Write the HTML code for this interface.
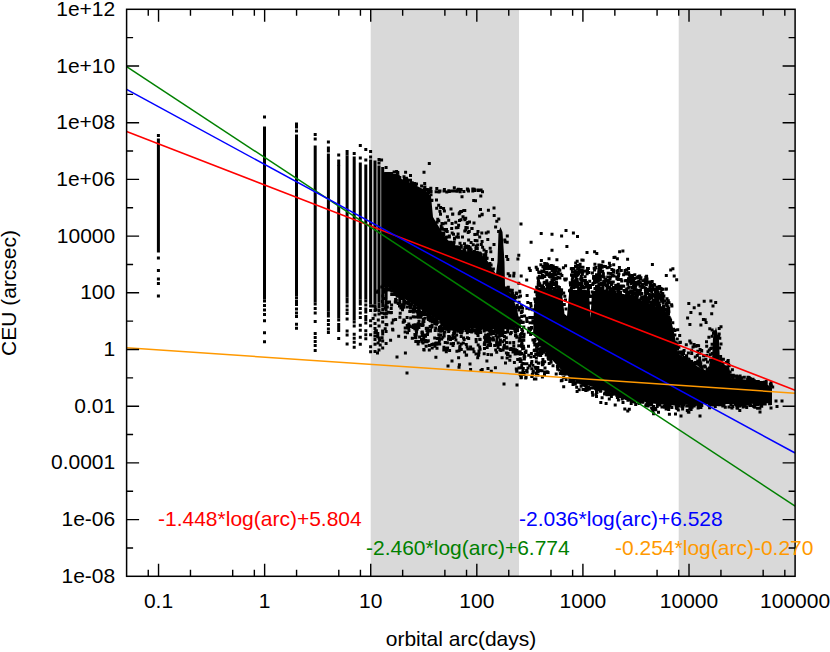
<!DOCTYPE html><html><head><meta charset="utf-8"><style>html,body{margin:0;padding:0;background:#fff}svg{display:block}</style></head><body><svg width="830" height="652" viewBox="0 0 830 652">
<rect width="830" height="652" fill="#fff"/>
<rect x="370.72" y="9.3" width="148.31" height="567.0" fill="#d9d9d9"/>
<rect x="678.72" y="9.3" width="116.38" height="567.0" fill="#d9d9d9"/>
<g fill="#000">
<rect x="156.9" y="138.5" width="3" height="114.0"/>
<rect x="263.0" y="126.5" width="3" height="173.0"/>
<rect x="295.0" y="134.5" width="3" height="162.0"/>
<rect x="313.7" y="145.5" width="3" height="157.0"/>
<rect x="326.9" y="153.5" width="3" height="158.0"/>
<rect x="337.2" y="165.0" width="3" height="153.5"/>
<rect x="345.6" y="155.5" width="3" height="142.0"/>
<rect x="352.7" y="156.5" width="3" height="164.0"/>
<rect x="358.8" y="162.5" width="3" height="137.0"/>
<rect x="364.3" y="164.5" width="3" height="135.0"/>
<rect x="369.1" y="159.5" width="3" height="145.0"/>
<rect x="373.5" y="160.5" width="3" height="144.0"/>
<rect x="377.5" y="165.5" width="3" height="137.0"/>
<rect x="381.2" y="167.0" width="3" height="134.5"/>
<rect x="384.6" y="172.5" width="3" height="127.0"/>
<polygon points="384.0,174.0 405.0,180.0 425.0,190.0 431.0,196.0 433.0,217.0 445.0,237.0 455.0,247.0 465.0,251.0 475.0,253.0 485.0,257.0 496.0,274.0 497.5,262.0 498.5,232.0 500.5,227.0 502.5,232.0 504.5,262.0 505.0,286.0 512.0,296.0 517.0,309.0 519.5,322.0 514.0,330.0 504.0,329.0 483.0,329.0 461.0,328.0 440.0,321.0 433.0,317.0 409.0,302.0 386.0,286.0 384.0,284.0"/>
<polygon points="533.0,335.0 534.0,305.0 537.0,292.0 545.0,289.0 558.0,290.0 562.0,293.0 564.5,314.0 567.0,316.0 569.0,294.0 572.0,290.0 586.0,290.0 589.0,292.0 590.5,318.0 592.0,292.0 596.0,290.0 605.0,290.0 628.0,295.0 651.0,304.0 667.0,312.0 671.0,320.0 674.0,332.0 678.0,353.0 683.0,357.0 700.0,368.0 710.0,372.0 712.0,360.0 713.0,338.0 716.0,327.0 719.0,340.0 720.0,364.0 729.0,366.0 731.0,378.0 750.0,380.0 768.0,385.0 772.0,388.0 772.0,403.0 750.0,404.0 700.0,404.0 673.0,405.5 652.0,403.5 630.0,398.5 608.0,392.0 587.0,385.0 576.0,381.0 565.0,374.0 554.0,362.0 543.0,350.0 536.0,338.0"/>
<path d="M156.9 134.0h3v3h-3zM156.9 256.5h3v3h-3zM156.9 269.0h3v3h-3zM156.9 277.5h3v3h-3zM156.9 282.0h3v3h-3zM156.9 294.5h3v3h-3zM263.0 115.5h3v3h-3zM263.0 299.5h3v3h-3zM263.0 304.0h3v3h-3zM263.0 308.5h3v3h-3zM263.0 313.0h3v3h-3zM263.0 319.2h3v3h-3zM263.0 331.2h3v3h-3zM263.0 340.2h3v3h-3zM295.0 122.5h3v3h-3zM295.0 125.5h3v3h-3zM295.0 129.5h3v3h-3zM295.0 296.5h3v3h-3zM295.0 300.0h3v3h-3zM295.0 303.0h3v3h-3zM295.0 307.5h3v3h-3zM295.0 311.5h3v3h-3zM295.0 315.0h3v3h-3zM295.0 322.7h3v3h-3zM295.0 326.7h3v3h-3zM313.7 133.0h3v3h-3zM313.7 137.5h3v3h-3zM313.7 302.5h3v3h-3zM313.7 307.0h3v3h-3zM313.7 311.5h3v3h-3zM313.7 320.0h3v3h-3zM313.7 332.0h3v3h-3zM313.7 336.0h3v3h-3zM313.7 340.0h3v3h-3zM313.7 344.0h3v3h-3zM313.7 349.0h3v3h-3zM326.9 140.5h3v3h-3zM326.9 146.5h3v3h-3zM326.9 149.5h3v3h-3zM326.9 311.5h3v3h-3zM326.9 314.5h3v3h-3zM326.9 319.0h3v3h-3zM326.9 323.0h3v3h-3zM326.9 327.5h3v3h-3zM326.9 331.0h3v3h-3zM337.2 153.5h3v3h-3zM337.2 159.5h3v3h-3zM337.2 162.5h3v3h-3zM337.2 318.5h3v3h-3zM337.2 323.0h3v3h-3zM337.2 326.0h3v3h-3zM337.2 329.0h3v3h-3zM337.2 337.1h3v3h-3zM345.6 150.0h3v3h-3zM345.6 152.5h3v3h-3zM345.6 297.5h3v3h-3zM345.6 300.5h3v3h-3zM345.6 304.5h3v3h-3zM345.6 308.5h3v3h-3zM345.6 312.0h3v3h-3zM345.6 317.6h3v3h-3zM345.6 329.6h3v3h-3zM345.6 333.6h3v3h-3zM345.6 342.6h3v3h-3zM352.7 152.0h3v3h-3zM352.7 320.5h3v3h-3zM352.7 324.5h3v3h-3zM352.7 332.8h3v3h-3zM352.7 336.8h3v3h-3zM352.7 340.8h3v3h-3zM352.7 345.8h3v3h-3zM358.8 144.0h3v3h-3zM358.8 156.5h3v3h-3zM358.8 299.5h3v3h-3zM358.8 302.5h3v3h-3zM358.8 307.0h3v3h-3zM358.8 311.5h3v3h-3zM358.8 316.0h3v3h-3zM358.8 323.8h3v3h-3zM358.8 328.8h3v3h-3zM358.8 335.8h3v3h-3zM358.8 342.8h3v3h-3zM364.3 148.0h3v3h-3zM364.3 158.5h3v3h-3zM364.3 299.5h3v3h-3zM364.3 303.5h3v3h-3zM364.3 307.5h3v3h-3zM364.3 310.5h3v3h-3zM364.3 315.0h3v3h-3zM364.3 318.0h3v3h-3zM364.3 321.5h3v3h-3zM364.3 329.3h3v3h-3zM364.3 333.3h3v3h-3zM364.3 337.3h3v3h-3zM369.1 150.0h3v3h-3zM369.1 155.5h3v3h-3zM369.1 304.5h3v3h-3zM369.1 309.0h3v3h-3zM369.1 319.2h3v3h-3zM369.1 324.2h3v3h-3zM369.1 333.2h3v3h-3zM369.1 345.2h3v3h-3zM369.1 350.2h3v3h-3zM373.5 304.5h3v3h-3zM373.5 309.0h3v3h-3zM373.5 313.5h3v3h-3zM373.5 322.1h3v3h-3zM373.5 327.1h3v3h-3zM373.5 331.1h3v3h-3zM373.5 338.1h3v3h-3zM373.5 350.1h3v3h-3zM377.5 158.0h3v3h-3zM377.5 161.5h3v3h-3zM377.5 302.5h3v3h-3zM377.5 305.5h3v3h-3zM377.5 309.0h3v3h-3zM377.5 312.5h3v3h-3zM377.5 324.5h3v3h-3zM377.5 336.5h3v3h-3zM377.5 348.5h3v3h-3zM381.2 301.5h3v3h-3zM381.2 304.5h3v3h-3zM381.2 308.0h3v3h-3zM381.2 311.5h3v3h-3zM381.2 316.0h3v3h-3zM381.2 320.5h3v3h-3zM381.2 332.5h3v3h-3zM381.2 339.5h3v3h-3zM381.2 346.5h3v3h-3zM384.6 166.0h3v3h-3zM384.6 299.5h3v3h-3zM384.6 302.5h3v3h-3zM384.6 305.5h3v3h-3zM384.6 308.5h3v3h-3zM384.6 312.0h3v3h-3zM384.6 315.5h3v3h-3zM384.6 322.9h3v3h-3zM384.6 329.9h3v3h-3zM384.6 341.9h3v3h-3zM395.8 172.6h3v3h-3zM385.6 172.4h3v3h-3zM395.9 175.5h3v3h-3zM387.8 172.1h3v3h-3zM397.8 176.5h3v3h-3zM396.2 174.7h3v3h-3zM397.2 175.7h3v3h-3zM392.7 175.2h3v3h-3zM383.6 172.6h3v3h-3zM393.4 175.0h3v3h-3zM398.3 176.0h3v3h-3zM392.6 170.5h3v3h-3zM393.2 174.0h3v3h-3zM404.1 170.8h3v3h-3zM385.5 172.0h3v3h-3zM396.7 174.6h3v3h-3zM384.2 172.5h3v3h-3zM402.5 175.3h3v3h-3zM384.2 171.9h3v3h-3zM387.8 173.9h3v3h-3zM388.8 172.7h3v3h-3zM403.0 178.2h3v3h-3zM385.7 172.2h3v3h-3zM390.2 171.9h3v3h-3zM395.1 170.0h3v3h-3zM396.3 171.1h3v3h-3zM411.0 181.4h3v3h-3zM405.0 177.2h3v3h-3zM405.1 179.1h3v3h-3zM409.9 181.3h3v3h-3zM405.5 178.1h3v3h-3zM410.9 182.1h3v3h-3zM423.4 185.5h3v3h-3zM409.0 173.9h3v3h-3zM410.4 181.8h3v3h-3zM413.0 183.1h3v3h-3zM423.2 181.9h3v3h-3zM404.7 177.6h3v3h-3zM404.8 176.7h3v3h-3zM411.1 182.3h3v3h-3zM405.0 179.1h3v3h-3zM406.1 179.1h3v3h-3zM412.2 181.9h3v3h-3zM423.2 185.7h3v3h-3zM413.2 182.0h3v3h-3zM415.0 182.6h3v3h-3zM414.1 183.0h3v3h-3zM405.3 179.3h3v3h-3zM422.8 187.9h3v3h-3zM420.1 184.4h3v3h-3zM429.5 193.2h3v3h-3zM425.7 188.0h3v3h-3zM428.6 189.6h3v3h-3zM429.3 186.8h3v3h-3zM426.9 191.1h3v3h-3zM426.3 190.5h3v3h-3zM429.6 190.0h3v3h-3zM430.4 198.7h3v3h-3zM435.0 198.6h3v3h-3zM430.2 198.9h3v3h-3zM442.3 233.4h3v3h-3zM439.0 212.7h3v3h-3zM441.6 231.8h3v3h-3zM441.6 222.3h3v3h-3zM442.3 231.6h3v3h-3zM439.7 224.8h3v3h-3zM443.3 227.9h3v3h-3zM439.7 227.6h3v3h-3zM442.0 231.7h3v3h-3zM440.7 226.5h3v3h-3zM435.6 220.7h3v3h-3zM440.7 227.6h3v3h-3zM440.1 227.8h3v3h-3zM436.3 217.8h3v3h-3zM437.3 219.3h3v3h-3zM453.5 245.2h3v3h-3zM445.7 235.5h3v3h-3zM450.5 241.2h3v3h-3zM444.6 236.0h3v3h-3zM452.2 243.3h3v3h-3zM452.6 240.7h3v3h-3zM448.9 240.8h3v3h-3zM447.9 235.6h3v3h-3zM453.0 236.7h3v3h-3zM456.6 232.4h3v3h-3zM447.8 234.4h3v3h-3zM450.9 242.1h3v3h-3zM462.8 248.2h3v3h-3zM458.2 246.9h3v3h-3zM462.4 249.0h3v3h-3zM459.8 245.7h3v3h-3zM459.8 244.3h3v3h-3zM457.2 246.1h3v3h-3zM463.4 249.2h3v3h-3zM463.4 246.0h3v3h-3zM462.8 249.0h3v3h-3zM456.3 245.6h3v3h-3zM454.7 245.2h3v3h-3zM465.3 244.4h3v3h-3zM470.7 250.9h3v3h-3zM468.6 250.4h3v3h-3zM467.1 249.1h3v3h-3zM467.2 245.1h3v3h-3zM466.5 246.0h3v3h-3zM467.8 250.3h3v3h-3zM469.3 248.3h3v3h-3zM472.9 250.1h3v3h-3zM474.4 247.0h3v3h-3zM469.1 248.3h3v3h-3zM468.7 246.2h3v3h-3zM469.7 248.4h3v3h-3zM478.5 251.7h3v3h-3zM482.4 253.3h3v3h-3zM475.7 250.8h3v3h-3zM482.8 254.6h3v3h-3zM482.5 248.4h3v3h-3zM482.9 253.2h3v3h-3zM476.7 252.4h3v3h-3zM479.2 253.1h3v3h-3zM478.9 252.5h3v3h-3zM474.6 251.9h3v3h-3zM477.8 251.6h3v3h-3zM475.8 247.0h3v3h-3zM484.8 256.9h3v3h-3zM488.4 262.1h3v3h-3zM489.6 263.4h3v3h-3zM485.6 256.8h3v3h-3zM484.3 255.7h3v3h-3zM484.2 255.9h3v3h-3zM484.2 255.3h3v3h-3zM491.9 267.5h3v3h-3zM508.4 288.5h3v3h-3zM511.1 291.9h3v3h-3zM510.5 290.3h3v3h-3zM509.7 293.3h3v3h-3zM510.8 288.8h3v3h-3zM509.1 289.8h3v3h-3zM510.8 292.3h3v3h-3zM505.4 286.4h3v3h-3zM508.7 288.9h3v3h-3zM516.9 305.7h3v3h-3zM512.6 298.9h3v3h-3zM517.6 300.8h3v3h-3zM514.3 295.9h3v3h-3zM511.7 297.0h3v3h-3zM515.2 306.0h3v3h-3zM511.9 295.3h3v3h-3zM519.4 319.4h3v3h-3zM517.7 316.6h3v3h-3zM520.2 315.1h3v3h-3zM517.4 308.4h3v3h-3zM514.2 327.6h3v3h-3zM515.8 327.3h3v3h-3zM526.9 330.7h3v3h-3zM516.1 329.0h3v3h-3zM515.4 324.4h3v3h-3zM515.4 327.7h3v3h-3zM514.1 328.5h3v3h-3zM500.1 328.0h3v3h-3zM499.2 328.3h3v3h-3zM488.4 329.7h3v3h-3zM499.7 330.4h3v3h-3zM500.9 327.8h3v3h-3zM494.3 328.9h3v3h-3zM495.1 328.1h3v3h-3zM494.7 330.0h3v3h-3zM501.6 328.1h3v3h-3zM493.9 328.6h3v3h-3zM494.7 333.9h3v3h-3zM489.8 327.7h3v3h-3zM485.9 328.5h3v3h-3zM500.7 332.1h3v3h-3zM484.1 333.5h3v3h-3zM482.8 329.6h3v3h-3zM498.5 329.7h3v3h-3zM495.3 331.1h3v3h-3zM496.6 327.8h3v3h-3zM486.9 327.9h3v3h-3zM482.9 327.9h3v3h-3zM495.6 329.4h3v3h-3zM494.7 328.9h3v3h-3zM498.7 328.1h3v3h-3zM498.6 331.5h3v3h-3zM496.2 327.8h3v3h-3zM483.9 339.2h3v3h-3zM483.5 327.6h3v3h-3zM496.8 335.6h3v3h-3zM496.2 328.1h3v3h-3zM477.5 327.5h3v3h-3zM470.1 328.7h3v3h-3zM476.8 327.6h3v3h-3zM472.7 329.2h3v3h-3zM479.0 327.7h3v3h-3zM476.2 328.7h3v3h-3zM470.2 330.6h3v3h-3zM467.2 326.9h3v3h-3zM475.8 328.0h3v3h-3zM473.9 329.1h3v3h-3zM472.3 328.9h3v3h-3zM462.9 326.9h3v3h-3zM471.6 329.6h3v3h-3zM469.3 329.7h3v3h-3zM460.4 327.8h3v3h-3zM460.8 327.8h3v3h-3zM459.9 331.4h3v3h-3zM469.5 329.2h3v3h-3zM472.0 328.8h3v3h-3zM475.2 328.5h3v3h-3zM474.5 329.1h3v3h-3zM470.8 327.8h3v3h-3zM460.9 329.3h3v3h-3zM465.0 326.8h3v3h-3zM464.4 328.9h3v3h-3zM467.5 328.2h3v3h-3zM466.4 327.0h3v3h-3zM474.5 328.5h3v3h-3zM468.6 330.1h3v3h-3zM474.3 331.2h3v3h-3zM476.4 330.4h3v3h-3zM443.6 321.3h3v3h-3zM456.1 329.8h3v3h-3zM440.3 320.5h3v3h-3zM439.1 320.4h3v3h-3zM444.6 321.7h3v3h-3zM450.6 323.9h3v3h-3zM441.1 321.5h3v3h-3zM455.9 326.5h3v3h-3zM456.1 326.8h3v3h-3zM446.1 324.7h3v3h-3zM444.8 322.8h3v3h-3zM442.5 325.3h3v3h-3zM456.4 326.4h3v3h-3zM456.3 327.2h3v3h-3zM448.6 323.9h3v3h-3zM447.4 327.4h3v3h-3zM453.0 326.8h3v3h-3zM443.3 324.3h3v3h-3zM455.3 325.9h3v3h-3zM452.1 332.0h3v3h-3zM448.1 325.5h3v3h-3zM454.5 327.9h3v3h-3zM446.3 322.1h3v3h-3zM454.0 324.7h3v3h-3zM458.5 326.8h3v3h-3zM452.5 327.9h3v3h-3zM440.2 320.5h3v3h-3zM451.4 334.3h3v3h-3zM449.0 324.1h3v3h-3zM451.9 325.7h3v3h-3zM430.4 319.5h3v3h-3zM433.2 321.5h3v3h-3zM430.8 319.3h3v3h-3zM433.7 320.7h3v3h-3zM435.6 318.3h3v3h-3zM435.2 322.8h3v3h-3zM433.9 317.9h3v3h-3zM431.0 320.3h3v3h-3zM435.9 321.1h3v3h-3zM433.7 318.5h3v3h-3zM417.7 308.5h3v3h-3zM415.6 310.6h3v3h-3zM418.1 312.2h3v3h-3zM430.8 316.1h3v3h-3zM408.4 303.8h3v3h-3zM413.9 306.5h3v3h-3zM412.6 304.9h3v3h-3zM410.0 302.8h3v3h-3zM415.2 306.5h3v3h-3zM409.2 302.7h3v3h-3zM419.7 310.8h3v3h-3zM408.3 304.4h3v3h-3zM423.8 312.9h3v3h-3zM406.9 301.9h3v3h-3zM421.6 319.5h3v3h-3zM413.0 306.1h3v3h-3zM427.1 318.0h3v3h-3zM429.4 317.5h3v3h-3zM415.4 310.1h3v3h-3zM413.2 305.4h3v3h-3zM421.9 310.0h3v3h-3zM417.1 307.0h3v3h-3zM428.5 315.4h3v3h-3zM408.8 306.2h3v3h-3zM426.1 312.3h3v3h-3zM427.2 313.9h3v3h-3zM428.5 319.1h3v3h-3zM420.2 311.0h3v3h-3zM423.1 312.6h3v3h-3zM423.0 311.2h3v3h-3zM428.5 314.7h3v3h-3zM429.5 317.4h3v3h-3zM426.9 317.6h3v3h-3zM419.7 311.8h3v3h-3zM416.6 313.2h3v3h-3zM396.3 294.0h3v3h-3zM388.4 288.4h3v3h-3zM403.4 299.7h3v3h-3zM388.9 287.8h3v3h-3zM393.2 290.7h3v3h-3zM384.0 297.1h3v3h-3zM399.5 294.9h3v3h-3zM398.7 294.6h3v3h-3zM395.7 294.7h3v3h-3zM406.3 301.0h3v3h-3zM407.1 300.6h3v3h-3zM382.7 290.8h3v3h-3zM401.6 296.9h3v3h-3zM391.2 292.7h3v3h-3zM399.4 296.4h3v3h-3zM394.9 292.7h3v3h-3zM386.2 287.6h3v3h-3zM390.2 289.5h3v3h-3zM400.3 303.2h3v3h-3zM384.5 288.8h3v3h-3zM406.2 301.6h3v3h-3zM388.6 288.5h3v3h-3zM402.3 298.3h3v3h-3zM392.7 293.0h3v3h-3zM395.6 294.4h3v3h-3zM394.1 298.0h3v3h-3zM394.8 299.0h3v3h-3zM384.5 287.5h3v3h-3zM384.7 287.1h3v3h-3zM386.9 288.2h3v3h-3zM393.8 300.5h3v3h-3zM390.2 293.0h3v3h-3zM402.5 303.1h3v3h-3zM398.0 294.6h3v3h-3zM376.3 289.5h3v3h-3zM380.3 285.5h3v3h-3zM382.8 283.0h3v3h-3zM676.2 328.2h3v3h-3zM673.4 329.1h3v3h-3zM671.3 321.2h3v3h-3zM673.2 328.7h3v3h-3zM672.1 327.7h3v3h-3zM676.0 347.5h3v3h-3zM677.4 345.7h3v3h-3zM674.7 341.3h3v3h-3zM675.2 342.4h3v3h-3zM678.2 333.9h3v3h-3zM673.4 333.6h3v3h-3zM675.8 337.5h3v3h-3zM678.9 340.8h3v3h-3zM675.4 345.0h3v3h-3zM680.1 352.6h3v3h-3zM676.9 351.3h3v3h-3zM678.9 350.5h3v3h-3zM681.1 353.7h3v3h-3zM677.4 350.8h3v3h-3zM682.6 348.9h3v3h-3zM687.4 358.1h3v3h-3zM697.4 351.7h3v3h-3zM692.9 362.7h3v3h-3zM682.9 356.1h3v3h-3zM694.1 361.0h3v3h-3zM695.9 361.1h3v3h-3zM684.2 355.9h3v3h-3zM697.5 362.9h3v3h-3zM690.0 360.1h3v3h-3zM685.0 354.3h3v3h-3zM698.1 361.8h3v3h-3zM696.2 359.5h3v3h-3zM685.2 355.5h3v3h-3zM698.9 363.5h3v3h-3zM699.2 363.6h3v3h-3zM691.0 361.5h3v3h-3zM685.2 356.8h3v3h-3zM683.8 356.1h3v3h-3zM686.8 357.4h3v3h-3zM693.0 361.5h3v3h-3zM688.1 359.5h3v3h-3zM700.6 365.2h3v3h-3zM700.5 366.8h3v3h-3zM699.3 365.5h3v3h-3zM705.6 369.1h3v3h-3zM702.1 358.5h3v3h-3zM703.9 365.5h3v3h-3zM703.2 364.6h3v3h-3zM707.9 369.9h3v3h-3zM700.7 367.0h3v3h-3zM705.9 368.0h3v3h-3zM708.4 368.4h3v3h-3zM706.5 367.6h3v3h-3zM709.5 360.9h3v3h-3zM709.0 358.4h3v3h-3zM708.6 367.3h3v3h-3zM708.0 366.6h3v3h-3zM709.2 363.7h3v3h-3zM710.6 352.0h3v3h-3zM710.6 342.8h3v3h-3zM710.3 346.6h3v3h-3zM708.8 353.3h3v3h-3zM709.3 347.1h3v3h-3zM705.3 353.9h3v3h-3zM708.3 327.3h3v3h-3zM713.1 330.2h3v3h-3zM710.6 328.5h3v3h-3zM710.7 334.7h3v3h-3zM712.0 331.7h3v3h-3zM717.7 336.7h3v3h-3zM718.3 336.7h3v3h-3zM717.2 334.9h3v3h-3zM717.7 332.5h3v3h-3zM719.5 325.2h3v3h-3zM717.7 327.1h3v3h-3zM718.1 346.5h3v3h-3zM718.4 360.9h3v3h-3zM719.1 354.9h3v3h-3zM719.2 356.7h3v3h-3zM719.5 342.4h3v3h-3zM719.5 357.9h3v3h-3zM726.7 358.9h3v3h-3zM727.6 364.2h3v3h-3zM726.1 360.3h3v3h-3zM727.1 362.4h3v3h-3zM724.9 361.0h3v3h-3zM720.2 361.8h3v3h-3zM719.1 361.1h3v3h-3zM719.8 361.7h3v3h-3zM721.6 362.9h3v3h-3zM721.9 357.7h3v3h-3zM719.6 359.6h3v3h-3zM729.7 373.8h3v3h-3zM728.6 370.4h3v3h-3zM730.9 368.2h3v3h-3zM730.3 375.3h3v3h-3zM735.1 374.4h3v3h-3zM738.6 374.6h3v3h-3zM742.8 375.8h3v3h-3zM731.7 376.6h3v3h-3zM747.4 377.9h3v3h-3zM739.5 376.9h3v3h-3zM730.3 373.7h3v3h-3zM735.2 375.9h3v3h-3zM737.8 376.8h3v3h-3zM735.8 375.3h3v3h-3zM746.5 375.8h3v3h-3zM734.4 374.8h3v3h-3zM734.4 374.5h3v3h-3zM748.1 377.7h3v3h-3zM731.8 373.8h3v3h-3zM740.0 376.3h3v3h-3zM747.6 375.9h3v3h-3zM748.7 376.9h3v3h-3zM746.1 377.7h3v3h-3zM758.7 381.1h3v3h-3zM760.4 381.1h3v3h-3zM750.7 379.0h3v3h-3zM757.9 380.9h3v3h-3zM764.7 381.9h3v3h-3zM756.8 380.4h3v3h-3zM761.6 382.1h3v3h-3zM751.8 378.7h3v3h-3zM756.8 379.9h3v3h-3zM751.4 377.8h3v3h-3zM752.8 379.2h3v3h-3zM756.8 380.3h3v3h-3zM754.4 379.9h3v3h-3zM763.0 380.7h3v3h-3zM764.4 382.6h3v3h-3zM764.3 381.4h3v3h-3zM749.7 378.4h3v3h-3zM764.7 380.1h3v3h-3zM769.9 384.3h3v3h-3zM769.3 384.4h3v3h-3zM769.6 381.3h3v3h-3zM771.2 385.4h3v3h-3zM768.9 382.8h3v3h-3zM533.9 290.3h3v3h-3zM537.2 270.4h3v3h-3zM535.6 267.5h3v3h-3zM535.2 285.7h3v3h-3zM537.6 271.0h3v3h-3zM536.4 276.6h3v3h-3zM541.4 265.1h3v3h-3zM539.4 263.2h3v3h-3zM541.6 265.5h3v3h-3zM539.9 259.1h3v3h-3zM543.8 264.8h3v3h-3zM546.3 263.2h3v3h-3zM550.1 265.6h3v3h-3zM555.5 266.2h3v3h-3zM555.4 266.3h3v3h-3zM551.7 264.5h3v3h-3zM549.8 264.1h3v3h-3zM547.5 257.3h3v3h-3zM546.8 264.9h3v3h-3zM553.3 266.0h3v3h-3zM554.0 265.9h3v3h-3zM561.9 266.3h3v3h-3zM558.3 268.8h3v3h-3zM533.3 297.4h3v3h-3zM543.2 262.1h3v3h-3zM545.2 262.3h3v3h-3zM555.4 258.2h3v3h-3zM570.4 267.0h3v3h-3zM572.4 266.9h3v3h-3zM569.8 267.2h3v3h-3zM575.9 263.9h3v3h-3zM580.0 265.8h3v3h-3zM578.6 262.8h3v3h-3zM579.0 265.8h3v3h-3zM575.7 259.8h3v3h-3zM574.0 265.0h3v3h-3zM581.5 265.7h3v3h-3zM586.9 267.0h3v3h-3zM586.0 267.0h3v3h-3zM585.5 269.9h3v3h-3zM564.1 264.3h3v3h-3zM580.4 258.6h3v3h-3zM574.2 261.6h3v3h-3zM593.4 262.7h3v3h-3zM594.5 266.1h3v3h-3zM593.9 266.6h3v3h-3zM593.1 268.4h3v3h-3zM592.7 266.8h3v3h-3zM599.7 265.3h3v3h-3zM599.8 263.8h3v3h-3zM601.4 260.3h3v3h-3zM597.4 263.5h3v3h-3zM600.7 265.7h3v3h-3zM601.7 264.7h3v3h-3zM603.9 265.1h3v3h-3zM615.6 269.8h3v3h-3zM616.6 269.1h3v3h-3zM627.0 266.9h3v3h-3zM619.8 268.9h3v3h-3zM626.5 271.7h3v3h-3zM610.4 268.0h3v3h-3zM623.5 271.5h3v3h-3zM605.6 266.2h3v3h-3zM612.2 263.3h3v3h-3zM624.9 272.5h3v3h-3zM607.7 265.7h3v3h-3zM627.1 271.2h3v3h-3zM617.9 266.1h3v3h-3zM625.3 268.2h3v3h-3zM608.7 264.0h3v3h-3zM625.1 272.6h3v3h-3zM612.2 268.8h3v3h-3zM633.3 273.2h3v3h-3zM645.4 280.1h3v3h-3zM636.3 275.8h3v3h-3zM644.4 279.7h3v3h-3zM638.5 276.5h3v3h-3zM631.1 274.1h3v3h-3zM639.3 277.7h3v3h-3zM627.8 273.4h3v3h-3zM649.0 280.9h3v3h-3zM639.4 276.2h3v3h-3zM638.9 277.0h3v3h-3zM641.6 279.3h3v3h-3zM628.9 274.4h3v3h-3zM644.3 277.9h3v3h-3zM629.8 274.3h3v3h-3zM645.9 281.3h3v3h-3zM650.7 279.9h3v3h-3zM638.2 274.6h3v3h-3zM635.5 276.6h3v3h-3zM660.3 288.1h3v3h-3zM659.6 287.1h3v3h-3zM653.1 283.5h3v3h-3zM651.7 283.7h3v3h-3zM656.5 285.5h3v3h-3zM661.0 287.7h3v3h-3zM658.4 287.1h3v3h-3zM657.0 286.1h3v3h-3zM664.9 287.6h3v3h-3zM658.4 286.6h3v3h-3zM652.3 283.0h3v3h-3zM655.2 285.9h3v3h-3zM667.5 301.2h3v3h-3zM670.4 304.6h3v3h-3zM666.8 299.2h3v3h-3zM670.1 303.2h3v3h-3zM581.6 258.8h3v3h-3zM599.0 265.0h3v3h-3zM615.9 257.2h3v3h-3zM613.5 255.7h3v3h-3zM607.9 261.7h3v3h-3zM621.4 249.4h3v3h-3zM643.4 278.3h3v3h-3zM648.5 280.6h3v3h-3zM645.5 277.6h3v3h-3zM645.1 274.8h3v3h-3zM650.9 263.0h3v3h-3zM658.1 285.0h3v3h-3zM664.3 287.7h3v3h-3zM672.7 274.4h3v3h-3zM687.3 302.1h3v3h-3zM688.5 407.2h3v3h-3zM690.6 405.7h3v3h-3zM674.6 404.0h3v3h-3zM697.6 403.4h3v3h-3zM688.5 403.8h3v3h-3zM676.8 408.5h3v3h-3zM681.2 404.5h3v3h-3zM689.6 408.0h3v3h-3zM697.8 405.2h3v3h-3zM692.7 403.0h3v3h-3zM697.3 404.3h3v3h-3zM682.0 403.6h3v3h-3zM696.7 404.0h3v3h-3zM686.8 410.6h3v3h-3zM688.3 406.7h3v3h-3zM680.1 404.2h3v3h-3zM685.2 404.6h3v3h-3zM698.0 404.6h3v3h-3zM691.3 403.6h3v3h-3zM692.6 404.4h3v3h-3zM674.0 412.5h3v3h-3zM698.5 404.2h3v3h-3zM675.8 407.0h3v3h-3zM696.6 406.4h3v3h-3zM674.8 406.4h3v3h-3zM677.0 404.4h3v3h-3zM695.7 402.7h3v3h-3zM676.8 404.2h3v3h-3zM687.8 403.5h3v3h-3zM693.3 403.2h3v3h-3zM689.6 405.6h3v3h-3zM676.8 404.5h3v3h-3zM687.4 404.1h3v3h-3zM680.5 405.0h3v3h-3zM681.1 404.5h3v3h-3zM652.0 405.1h3v3h-3zM652.1 412.2h3v3h-3zM653.9 407.1h3v3h-3zM664.6 407.5h3v3h-3zM660.5 405.5h3v3h-3zM670.4 406.0h3v3h-3zM662.7 404.6h3v3h-3zM664.2 404.4h3v3h-3zM655.7 405.1h3v3h-3zM666.0 405.7h3v3h-3zM663.5 405.8h3v3h-3zM667.2 407.9h3v3h-3zM667.0 405.4h3v3h-3zM667.9 412.7h3v3h-3zM658.0 403.0h3v3h-3zM655.9 403.2h3v3h-3zM668.1 404.2h3v3h-3zM658.4 403.5h3v3h-3zM657.0 410.7h3v3h-3zM661.3 405.6h3v3h-3zM654.3 408.2h3v3h-3zM665.8 404.2h3v3h-3zM666.0 405.9h3v3h-3zM663.1 405.7h3v3h-3zM668.6 404.1h3v3h-3zM650.1 406.5h3v3h-3zM667.3 404.6h3v3h-3zM632.6 399.1h3v3h-3zM629.7 401.3h3v3h-3zM631.6 398.1h3v3h-3zM648.7 402.9h3v3h-3zM630.9 399.9h3v3h-3zM645.0 403.6h3v3h-3zM641.4 400.3h3v3h-3zM637.3 401.5h3v3h-3zM645.6 401.6h3v3h-3zM631.1 398.9h3v3h-3zM631.8 399.6h3v3h-3zM629.7 402.1h3v3h-3zM640.9 400.2h3v3h-3zM630.9 398.3h3v3h-3zM637.8 399.8h3v3h-3zM641.5 400.8h3v3h-3zM648.6 402.1h3v3h-3zM638.0 401.0h3v3h-3zM647.2 401.3h3v3h-3zM633.2 400.6h3v3h-3zM650.2 402.9h3v3h-3zM646.7 404.6h3v3h-3zM628.4 398.2h3v3h-3zM649.6 402.8h3v3h-3zM637.8 400.9h3v3h-3zM645.3 403.0h3v3h-3zM632.2 398.5h3v3h-3zM646.2 401.8h3v3h-3zM644.2 404.3h3v3h-3zM607.8 391.0h3v3h-3zM607.8 397.5h3v3h-3zM615.9 395.9h3v3h-3zM622.5 395.3h3v3h-3zM616.2 393.5h3v3h-3zM616.9 398.6h3v3h-3zM626.8 397.5h3v3h-3zM611.4 392.7h3v3h-3zM621.5 400.9h3v3h-3zM617.4 394.6h3v3h-3zM616.1 395.9h3v3h-3zM609.9 394.9h3v3h-3zM607.5 392.3h3v3h-3zM609.7 392.6h3v3h-3zM608.1 393.2h3v3h-3zM628.2 397.3h3v3h-3zM620.6 397.6h3v3h-3zM617.2 394.4h3v3h-3zM606.1 392.6h3v3h-3zM618.4 394.9h3v3h-3zM626.4 398.8h3v3h-3zM615.2 393.8h3v3h-3zM623.7 396.0h3v3h-3zM627.4 397.0h3v3h-3zM621.7 395.5h3v3h-3zM620.8 395.1h3v3h-3zM620.2 395.0h3v3h-3zM627.7 397.9h3v3h-3zM627.3 396.9h3v3h-3zM587.9 387.6h3v3h-3zM605.9 390.8h3v3h-3zM604.5 391.9h3v3h-3zM594.1 387.3h3v3h-3zM594.6 393.0h3v3h-3zM595.0 390.2h3v3h-3zM586.7 387.8h3v3h-3zM604.7 391.0h3v3h-3zM585.7 388.5h3v3h-3zM589.7 386.6h3v3h-3zM605.4 393.2h3v3h-3zM590.9 390.9h3v3h-3zM604.7 392.1h3v3h-3zM598.9 389.3h3v3h-3zM591.1 386.6h3v3h-3zM584.3 389.1h3v3h-3zM603.0 392.5h3v3h-3zM590.5 386.5h3v3h-3zM595.4 391.0h3v3h-3zM595.6 388.0h3v3h-3zM595.1 386.8h3v3h-3zM586.7 385.6h3v3h-3zM596.8 388.0h3v3h-3zM605.5 390.3h3v3h-3zM599.1 389.8h3v3h-3zM599.4 388.8h3v3h-3zM593.3 386.6h3v3h-3zM579.4 381.4h3v3h-3zM573.8 382.5h3v3h-3zM575.5 380.2h3v3h-3zM581.5 388.1h3v3h-3zM576.7 380.7h3v3h-3zM584.2 383.3h3v3h-3zM582.5 383.1h3v3h-3zM583.4 382.8h3v3h-3zM581.2 383.6h3v3h-3zM581.5 382.6h3v3h-3zM584.9 384.6h3v3h-3zM577.7 388.3h3v3h-3zM582.8 382.8h3v3h-3zM579.6 384.7h3v3h-3zM575.8 380.1h3v3h-3zM571.5 382.9h3v3h-3zM563.7 372.8h3v3h-3zM562.2 376.0h3v3h-3zM572.1 379.0h3v3h-3zM560.6 378.8h3v3h-3zM571.7 378.6h3v3h-3zM568.8 378.4h3v3h-3zM572.8 381.4h3v3h-3zM568.6 377.5h3v3h-3zM572.3 380.8h3v3h-3zM568.2 376.5h3v3h-3zM559.8 379.3h3v3h-3zM562.2 385.2h3v3h-3zM568.3 380.0h3v3h-3zM564.6 378.1h3v3h-3zM555.9 364.9h3v3h-3zM558.8 372.1h3v3h-3zM560.2 371.7h3v3h-3zM562.5 372.5h3v3h-3zM560.0 370.0h3v3h-3zM556.1 365.6h3v3h-3zM563.3 372.5h3v3h-3zM559.2 371.9h3v3h-3zM551.5 364.2h3v3h-3zM561.2 370.2h3v3h-3zM559.8 370.0h3v3h-3zM556.2 365.6h3v3h-3zM561.8 371.1h3v3h-3zM561.3 372.4h3v3h-3zM557.8 368.5h3v3h-3zM547.7 362.1h3v3h-3zM541.9 349.2h3v3h-3zM545.0 353.1h3v3h-3zM546.9 355.1h3v3h-3zM547.5 355.9h3v3h-3zM544.7 353.5h3v3h-3zM547.4 357.8h3v3h-3zM544.8 353.1h3v3h-3zM545.2 352.6h3v3h-3zM545.8 353.2h3v3h-3zM546.9 357.3h3v3h-3zM542.2 350.8h3v3h-3zM549.3 357.3h3v3h-3zM540.4 352.1h3v3h-3zM549.6 360.8h3v3h-3zM547.1 355.4h3v3h-3zM541.3 348.3h3v3h-3zM535.1 342.7h3v3h-3zM531.4 338.5h3v3h-3zM533.3 339.2h3v3h-3zM540.3 346.7h3v3h-3zM539.0 347.2h3v3h-3zM536.1 343.9h3v3h-3zM540.6 348.0h3v3h-3zM538.4 350.0h3v3h-3zM538.0 343.6h3v3h-3zM537.5 342.1h3v3h-3zM748.6 403.9h3v3h-3zM753.3 405.8h3v3h-3zM759.2 403.2h3v3h-3zM759.7 404.3h3v3h-3zM759.2 402.1h3v3h-3zM753.0 402.3h3v3h-3zM749.5 404.0h3v3h-3zM753.3 405.4h3v3h-3zM756.1 406.7h3v3h-3zM760.2 404.8h3v3h-3zM761.0 402.2h3v3h-3zM762.4 402.5h3v3h-3zM752.3 405.1h3v3h-3zM768.1 402.3h3v3h-3zM758.4 406.8h3v3h-3zM753.4 402.4h3v3h-3zM748.6 403.6h3v3h-3zM769.0 401.9h3v3h-3zM756.0 403.1h3v3h-3zM763.7 402.4h3v3h-3zM719.0 403.3h3v3h-3zM699.0 403.7h3v3h-3zM740.0 402.6h3v3h-3zM741.6 405.5h3v3h-3zM708.0 403.4h3v3h-3zM741.3 403.6h3v3h-3zM739.8 403.8h3v3h-3zM700.3 404.1h3v3h-3zM742.6 404.7h3v3h-3zM737.1 404.6h3v3h-3zM743.0 404.2h3v3h-3zM729.7 403.0h3v3h-3zM717.6 403.2h3v3h-3zM723.8 405.7h3v3h-3zM721.3 404.4h3v3h-3zM709.7 403.1h3v3h-3zM733.5 402.8h3v3h-3zM721.7 403.9h3v3h-3zM727.5 405.4h3v3h-3zM738.3 409.0h3v3h-3zM720.5 402.7h3v3h-3zM699.4 405.9h3v3h-3zM743.6 403.8h3v3h-3zM735.1 403.7h3v3h-3zM737.5 402.6h3v3h-3zM708.9 403.1h3v3h-3zM716.1 403.0h3v3h-3zM742.7 403.0h3v3h-3zM721.9 402.7h3v3h-3zM729.4 403.0h3v3h-3zM707.6 404.0h3v3h-3zM712.8 402.5h3v3h-3zM730.5 406.4h3v3h-3zM722.5 403.5h3v3h-3zM711.8 403.1h3v3h-3zM718.8 402.6h3v3h-3zM714.1 403.1h3v3h-3zM736.2 406.8h3v3h-3zM713.8 404.9h3v3h-3zM738.0 404.4h3v3h-3zM745.7 402.8h3v3h-3zM742.6 404.3h3v3h-3zM731.3 405.0h3v3h-3zM737.8 403.7h3v3h-3zM708.1 406.2h3v3h-3zM390.5 174.0h3v3h-3zM394.7 175.1h3v3h-3zM409.0 178.7h3v3h-3zM404.7 177.7h3v3h-3zM427.1 188.3h3v3h-3zM492.2 332.0h3v3h-3zM500.7 328.8h3v3h-3zM495.4 338.9h3v3h-3zM489.5 337.8h3v3h-3zM498.1 334.6h3v3h-3zM485.2 333.4h3v3h-3zM495.5 336.3h3v3h-3zM483.3 343.0h3v3h-3zM498.9 328.3h3v3h-3zM488.1 328.9h3v3h-3zM486.6 337.7h3v3h-3zM470.8 347.5h3v3h-3zM464.8 343.0h3v3h-3zM460.3 330.5h3v3h-3zM462.7 337.9h3v3h-3zM465.8 331.3h3v3h-3zM465.9 336.3h3v3h-3zM478.2 345.6h3v3h-3zM479.2 330.9h3v3h-3zM477.2 353.8h3v3h-3zM478.0 330.2h3v3h-3zM471.6 347.5h3v3h-3zM460.9 328.6h3v3h-3zM447.5 327.9h3v3h-3zM440.7 327.0h3v3h-3zM447.1 329.9h3v3h-3zM437.3 333.2h3v3h-3zM452.7 324.4h3v3h-3zM439.2 329.7h3v3h-3zM447.0 337.7h3v3h-3zM443.4 326.9h3v3h-3zM445.4 327.7h3v3h-3zM442.9 322.5h3v3h-3zM443.3 325.9h3v3h-3zM430.6 325.4h3v3h-3zM433.7 322.2h3v3h-3zM426.8 339.2h3v3h-3zM431.6 318.6h3v3h-3zM415.0 330.5h3v3h-3zM429.0 316.0h3v3h-3zM418.0 315.1h3v3h-3zM421.6 310.7h3v3h-3zM422.4 320.1h3v3h-3zM411.9 310.6h3v3h-3zM403.9 351.6h3v3h-3zM422.2 311.5h3v3h-3zM416.5 313.3h3v3h-3zM403.9 335.8h3v3h-3zM421.2 312.9h3v3h-3zM424.8 313.1h3v3h-3zM398.4 315.8h3v3h-3zM411.8 307.7h3v3h-3zM402.2 298.8h3v3h-3zM382.2 288.0h3v3h-3zM399.4 296.2h3v3h-3zM380.9 300.0h3v3h-3zM384.4 303.9h3v3h-3zM384.3 285.7h3v3h-3zM398.3 296.2h3v3h-3zM381.4 294.4h3v3h-3zM396.7 302.0h3v3h-3zM401.1 296.9h3v3h-3zM398.7 311.7h3v3h-3zM385.0 286.6h3v3h-3zM389.7 307.0h3v3h-3zM394.3 292.8h3v3h-3zM381.8 284.0h3v3h-3zM375.3 290.7h3v3h-3zM681.4 405.3h3v3h-3zM687.4 410.7h3v3h-3zM681.1 407.4h3v3h-3zM685.8 409.0h3v3h-3zM689.2 404.2h3v3h-3zM681.3 405.0h3v3h-3zM679.5 414.4h3v3h-3zM696.7 406.6h3v3h-3zM651.4 408.9h3v3h-3zM665.1 403.4h3v3h-3zM667.2 405.9h3v3h-3zM664.0 404.0h3v3h-3zM651.0 407.5h3v3h-3zM641.2 400.7h3v3h-3zM626.3 409.4h3v3h-3zM637.9 402.1h3v3h-3zM635.5 399.0h3v3h-3zM634.2 403.1h3v3h-3zM627.8 407.7h3v3h-3zM625.1 397.1h3v3h-3zM613.2 392.6h3v3h-3zM604.6 401.9h3v3h-3zM623.3 407.4h3v3h-3zM622.5 396.5h3v3h-3zM622.3 396.0h3v3h-3zM613.7 403.4h3v3h-3zM595.0 395.0h3v3h-3zM591.2 393.8h3v3h-3zM584.2 387.5h3v3h-3zM587.0 386.0h3v3h-3zM600.6 396.3h3v3h-3zM599.3 401.0h3v3h-3zM603.6 391.4h3v3h-3zM573.7 382.1h3v3h-3zM583.5 383.9h3v3h-3zM575.6 389.9h3v3h-3zM575.2 385.7h3v3h-3zM570.8 380.1h3v3h-3zM570.8 379.7h3v3h-3zM570.8 380.1h3v3h-3zM560.7 369.8h3v3h-3zM554.7 372.4h3v3h-3zM556.2 367.7h3v3h-3zM540.3 351.1h3v3h-3zM549.4 358.9h3v3h-3zM546.6 355.9h3v3h-3zM535.3 349.1h3v3h-3zM533.3 343.5h3v3h-3zM757.9 402.2h3v3h-3zM745.2 406.1h3v3h-3zM711.5 403.6h3v3h-3zM536.0 291.0h3v3h-3zM537.2 290.5h3v3h-3zM545.0 271.0h3v3h-3zM537.8 283.7h3v3h-3zM542.1 270.3h3v3h-3zM555.2 277.1h3v3h-3zM539.9 291.7h3v3h-3zM560.1 292.6h3v3h-3zM549.2 275.4h3v3h-3zM533.9 300.0h3v3h-3zM558.7 290.7h3v3h-3zM559.6 289.3h3v3h-3zM546.7 266.5h3v3h-3zM546.2 290.8h3v3h-3zM549.3 285.6h3v3h-3zM559.5 288.3h3v3h-3zM548.7 291.1h3v3h-3zM553.6 271.3h3v3h-3zM549.1 288.3h3v3h-3zM546.8 290.8h3v3h-3zM557.6 290.0h3v3h-3zM542.0 286.1h3v3h-3zM552.5 277.9h3v3h-3zM555.1 289.7h3v3h-3zM551.4 280.2h3v3h-3zM556.4 286.6h3v3h-3zM542.1 289.3h3v3h-3zM548.0 266.9h3v3h-3zM544.3 266.6h3v3h-3zM550.6 268.9h3v3h-3zM556.7 270.8h3v3h-3zM551.0 291.2h3v3h-3zM541.6 290.4h3v3h-3zM536.7 283.1h3v3h-3zM551.3 282.9h3v3h-3zM537.8 274.9h3v3h-3zM551.6 281.6h3v3h-3zM539.6 292.0h3v3h-3zM539.7 288.5h3v3h-3zM537.6 281.4h3v3h-3zM552.2 266.0h3v3h-3zM554.3 268.9h3v3h-3zM547.9 287.1h3v3h-3zM546.0 267.2h3v3h-3zM543.3 281.5h3v3h-3zM556.6 285.2h3v3h-3zM545.1 283.1h3v3h-3zM549.3 280.9h3v3h-3zM560.1 288.4h3v3h-3zM559.2 272.4h3v3h-3zM557.9 285.9h3v3h-3zM540.1 286.7h3v3h-3zM553.2 288.5h3v3h-3zM558.5 289.2h3v3h-3zM553.0 286.9h3v3h-3zM557.0 272.3h3v3h-3zM539.1 290.2h3v3h-3zM545.2 273.0h3v3h-3zM557.1 288.6h3v3h-3zM553.3 288.8h3v3h-3zM551.3 290.8h3v3h-3zM557.4 267.8h3v3h-3zM539.7 288.0h3v3h-3zM539.2 276.3h3v3h-3zM535.8 287.3h3v3h-3zM542.8 281.2h3v3h-3zM553.7 281.5h3v3h-3zM552.7 277.9h3v3h-3zM544.5 271.0h3v3h-3zM554.9 283.8h3v3h-3zM551.8 268.7h3v3h-3zM546.0 286.2h3v3h-3zM545.2 267.0h3v3h-3zM548.2 271.4h3v3h-3zM539.3 291.8h3v3h-3zM549.1 284.5h3v3h-3zM550.0 272.9h3v3h-3zM558.1 289.2h3v3h-3zM551.5 276.1h3v3h-3zM550.4 278.8h3v3h-3zM556.3 291.6h3v3h-3zM541.1 284.2h3v3h-3zM548.3 287.9h3v3h-3zM554.1 283.0h3v3h-3zM546.8 285.3h3v3h-3zM550.1 286.0h3v3h-3zM537.6 290.8h3v3h-3zM554.5 273.4h3v3h-3zM558.4 276.4h3v3h-3zM543.3 280.8h3v3h-3zM538.2 271.2h3v3h-3zM551.8 272.2h3v3h-3zM555.1 281.9h3v3h-3zM543.3 275.1h3v3h-3zM541.2 276.3h3v3h-3zM551.0 266.5h3v3h-3zM548.5 282.6h3v3h-3zM547.0 273.6h3v3h-3zM542.6 281.2h3v3h-3zM557.7 287.5h3v3h-3zM535.4 293.3h3v3h-3zM549.8 274.2h3v3h-3zM539.5 271.3h3v3h-3zM554.9 289.1h3v3h-3zM553.5 277.1h3v3h-3zM551.2 279.7h3v3h-3zM544.7 289.9h3v3h-3zM549.5 275.3h3v3h-3zM544.6 287.4h3v3h-3zM540.3 269.4h3v3h-3zM549.9 286.2h3v3h-3zM559.0 289.4h3v3h-3zM551.3 289.5h3v3h-3zM545.6 283.4h3v3h-3zM537.0 279.6h3v3h-3zM545.3 279.3h3v3h-3zM543.0 267.5h3v3h-3zM540.0 289.6h3v3h-3zM552.8 270.3h3v3h-3zM549.5 273.7h3v3h-3zM545.7 281.6h3v3h-3zM554.9 280.6h3v3h-3zM553.7 268.7h3v3h-3zM556.5 276.0h3v3h-3zM536.4 289.8h3v3h-3zM536.2 292.9h3v3h-3zM542.7 274.6h3v3h-3zM536.8 280.8h3v3h-3zM549.4 290.7h3v3h-3zM541.0 273.9h3v3h-3zM540.8 286.7h3v3h-3zM551.2 281.5h3v3h-3zM538.5 284.2h3v3h-3zM548.1 275.0h3v3h-3zM536.6 291.1h3v3h-3zM550.8 282.8h3v3h-3zM538.3 282.6h3v3h-3zM551.7 275.2h3v3h-3zM554.6 285.5h3v3h-3zM536.9 287.8h3v3h-3zM575.9 291.3h3v3h-3zM571.4 286.2h3v3h-3zM570.3 286.3h3v3h-3zM580.5 280.3h3v3h-3zM579.2 291.6h3v3h-3zM575.0 285.5h3v3h-3zM576.0 285.2h3v3h-3zM574.0 279.3h3v3h-3zM576.0 272.3h3v3h-3zM570.6 274.0h3v3h-3zM574.7 277.0h3v3h-3zM586.7 287.9h3v3h-3zM579.7 278.6h3v3h-3zM581.1 291.6h3v3h-3zM569.9 287.0h3v3h-3zM576.4 283.1h3v3h-3zM570.9 270.3h3v3h-3zM569.8 292.3h3v3h-3zM578.8 270.6h3v3h-3zM582.8 290.9h3v3h-3zM571.1 280.8h3v3h-3zM575.9 270.7h3v3h-3zM587.0 290.5h3v3h-3zM584.4 281.4h3v3h-3zM573.2 271.1h3v3h-3zM585.0 283.8h3v3h-3zM572.3 286.2h3v3h-3zM568.8 281.3h3v3h-3zM577.2 272.0h3v3h-3zM572.0 284.2h3v3h-3zM569.3 281.2h3v3h-3zM587.1 290.9h3v3h-3zM583.1 279.0h3v3h-3zM587.1 293.3h3v3h-3zM570.0 273.5h3v3h-3zM579.3 285.1h3v3h-3zM580.1 282.0h3v3h-3zM577.3 268.8h3v3h-3zM583.6 275.2h3v3h-3zM571.7 283.1h3v3h-3zM577.4 266.4h3v3h-3zM569.2 288.5h3v3h-3zM572.3 280.0h3v3h-3zM573.9 281.5h3v3h-3zM582.6 286.5h3v3h-3zM574.3 284.9h3v3h-3zM580.6 281.1h3v3h-3zM579.8 275.0h3v3h-3zM573.4 274.8h3v3h-3zM576.6 267.1h3v3h-3zM573.8 269.6h3v3h-3zM584.9 290.2h3v3h-3zM585.4 284.2h3v3h-3zM582.4 291.8h3v3h-3zM583.1 269.4h3v3h-3zM570.9 283.2h3v3h-3zM579.7 269.1h3v3h-3zM575.9 280.8h3v3h-3zM585.6 272.3h3v3h-3zM580.5 286.0h3v3h-3zM571.1 275.9h3v3h-3zM576.1 267.2h3v3h-3zM576.8 282.4h3v3h-3zM578.8 282.2h3v3h-3zM580.5 284.8h3v3h-3zM580.7 279.2h3v3h-3zM585.0 280.8h3v3h-3zM580.4 277.0h3v3h-3zM573.2 291.4h3v3h-3zM568.0 289.3h3v3h-3zM581.5 270.6h3v3h-3zM580.9 272.7h3v3h-3zM569.8 289.6h3v3h-3zM581.2 284.6h3v3h-3zM571.2 276.2h3v3h-3zM575.1 280.1h3v3h-3zM577.3 268.7h3v3h-3zM574.4 281.9h3v3h-3zM569.0 283.6h3v3h-3zM585.8 290.2h3v3h-3zM569.0 291.7h3v3h-3zM575.7 278.1h3v3h-3zM573.6 274.1h3v3h-3zM586.0 282.2h3v3h-3zM579.4 288.0h3v3h-3zM570.8 278.6h3v3h-3zM584.2 285.6h3v3h-3zM575.2 274.1h3v3h-3zM586.9 286.9h3v3h-3zM585.4 291.1h3v3h-3zM587.3 293.6h3v3h-3zM584.0 282.1h3v3h-3zM585.3 284.0h3v3h-3zM583.9 278.9h3v3h-3zM579.3 287.0h3v3h-3zM576.3 273.5h3v3h-3zM579.1 277.4h3v3h-3zM577.5 271.5h3v3h-3zM577.8 281.7h3v3h-3zM584.6 281.9h3v3h-3zM577.1 287.1h3v3h-3zM573.4 285.6h3v3h-3zM580.7 269.0h3v3h-3zM569.1 292.2h3v3h-3zM606.2 283.8h3v3h-3zM668.5 317.5h3v3h-3zM655.3 299.1h3v3h-3zM654.1 303.5h3v3h-3zM604.2 283.2h3v3h-3zM657.6 296.8h3v3h-3zM627.4 293.2h3v3h-3zM663.3 312.1h3v3h-3zM651.8 299.7h3v3h-3zM641.5 284.1h3v3h-3zM628.8 277.1h3v3h-3zM661.6 301.5h3v3h-3zM659.7 298.2h3v3h-3zM630.8 286.0h3v3h-3zM636.0 282.8h3v3h-3zM631.9 289.3h3v3h-3zM665.7 309.5h3v3h-3zM615.0 287.1h3v3h-3zM625.1 292.0h3v3h-3zM598.0 275.6h3v3h-3zM654.5 293.0h3v3h-3zM658.2 293.7h3v3h-3zM616.4 275.9h3v3h-3zM644.9 282.4h3v3h-3zM651.8 293.3h3v3h-3zM662.1 305.5h3v3h-3zM612.0 270.7h3v3h-3zM636.4 289.2h3v3h-3zM605.4 290.1h3v3h-3zM631.2 279.7h3v3h-3zM613.8 294.2h3v3h-3zM598.9 278.1h3v3h-3zM608.3 286.1h3v3h-3zM620.2 279.5h3v3h-3zM640.4 291.9h3v3h-3zM595.5 291.2h3v3h-3zM591.6 281.9h3v3h-3zM636.7 291.3h3v3h-3zM615.5 277.3h3v3h-3zM626.7 290.6h3v3h-3zM660.7 297.9h3v3h-3zM634.4 296.0h3v3h-3zM628.4 277.7h3v3h-3zM598.8 270.3h3v3h-3zM635.6 296.5h3v3h-3zM601.2 269.7h3v3h-3zM631.0 292.3h3v3h-3zM655.9 288.4h3v3h-3zM618.2 285.2h3v3h-3zM634.9 280.7h3v3h-3zM651.4 298.6h3v3h-3zM661.3 292.2h3v3h-3zM637.6 282.4h3v3h-3zM630.5 295.4h3v3h-3zM633.9 285.9h3v3h-3zM630.3 295.0h3v3h-3zM602.9 290.6h3v3h-3zM649.3 287.9h3v3h-3zM626.2 296.7h3v3h-3zM635.1 289.8h3v3h-3zM617.5 294.8h3v3h-3zM617.7 293.7h3v3h-3zM607.0 278.9h3v3h-3zM660.7 292.1h3v3h-3zM638.5 300.9h3v3h-3zM624.8 279.1h3v3h-3zM605.8 286.0h3v3h-3zM609.5 272.0h3v3h-3zM637.8 292.6h3v3h-3zM647.4 289.2h3v3h-3zM628.9 279.0h3v3h-3zM616.6 288.3h3v3h-3zM593.0 279.5h3v3h-3zM599.2 268.4h3v3h-3zM661.0 310.5h3v3h-3zM624.5 295.6h3v3h-3zM648.4 304.0h3v3h-3zM616.3 288.8h3v3h-3zM647.0 296.3h3v3h-3zM650.2 290.0h3v3h-3zM596.7 285.9h3v3h-3zM657.3 308.0h3v3h-3zM650.9 293.8h3v3h-3zM633.8 292.2h3v3h-3zM654.4 292.1h3v3h-3zM629.6 289.4h3v3h-3zM636.2 292.8h3v3h-3zM632.2 298.8h3v3h-3zM602.4 290.4h3v3h-3zM660.8 298.7h3v3h-3zM644.0 294.9h3v3h-3zM607.0 281.0h3v3h-3zM653.9 290.0h3v3h-3zM654.5 302.5h3v3h-3zM641.2 295.3h3v3h-3zM661.9 308.3h3v3h-3zM642.4 298.9h3v3h-3zM637.8 281.0h3v3h-3zM605.6 287.8h3v3h-3zM624.7 288.5h3v3h-3zM599.2 282.9h3v3h-3zM609.9 283.0h3v3h-3zM606.8 271.8h3v3h-3zM611.8 287.5h3v3h-3zM603.8 291.7h3v3h-3zM635.3 288.4h3v3h-3zM616.8 284.1h3v3h-3zM655.6 301.4h3v3h-3zM655.5 306.0h3v3h-3zM639.7 301.1h3v3h-3zM608.9 289.5h3v3h-3zM628.8 295.8h3v3h-3zM603.1 290.4h3v3h-3zM644.9 283.3h3v3h-3zM611.3 290.4h3v3h-3zM611.6 274.3h3v3h-3zM653.4 287.9h3v3h-3zM617.2 292.2h3v3h-3zM667.1 309.1h3v3h-3zM631.1 294.6h3v3h-3zM657.2 305.8h3v3h-3zM604.1 277.8h3v3h-3zM666.6 305.2h3v3h-3zM595.0 276.3h3v3h-3zM657.0 307.4h3v3h-3zM608.1 290.5h3v3h-3zM625.8 292.2h3v3h-3zM617.0 290.5h3v3h-3zM640.3 286.1h3v3h-3zM629.2 290.6h3v3h-3zM635.6 280.7h3v3h-3zM605.7 290.3h3v3h-3zM668.0 318.6h3v3h-3zM614.2 283.9h3v3h-3zM609.6 287.3h3v3h-3zM636.0 290.2h3v3h-3zM639.3 301.2h3v3h-3zM651.5 286.0h3v3h-3zM600.2 270.1h3v3h-3zM637.7 298.8h3v3h-3zM639.1 288.4h3v3h-3zM623.8 279.2h3v3h-3zM625.3 287.6h3v3h-3zM648.4 286.0h3v3h-3zM665.5 301.7h3v3h-3zM667.4 310.2h3v3h-3zM634.8 294.3h3v3h-3zM628.8 280.2h3v3h-3zM602.1 281.6h3v3h-3zM624.0 289.9h3v3h-3zM617.4 272.3h3v3h-3zM654.8 289.9h3v3h-3zM599.9 286.8h3v3h-3zM626.6 286.5h3v3h-3zM608.0 286.5h3v3h-3zM621.3 284.4h3v3h-3zM593.4 287.1h3v3h-3zM642.4 301.0h3v3h-3zM595.0 273.3h3v3h-3zM628.9 294.2h3v3h-3zM602.6 275.7h3v3h-3zM644.2 300.2h3v3h-3zM595.3 287.6h3v3h-3zM593.2 281.3h3v3h-3zM649.6 295.8h3v3h-3zM662.4 294.4h3v3h-3zM593.4 279.4h3v3h-3zM635.9 298.8h3v3h-3zM657.3 302.2h3v3h-3zM608.5 292.5h3v3h-3zM618.1 293.0h3v3h-3zM656.1 291.0h3v3h-3zM599.1 267.5h3v3h-3zM617.7 287.5h3v3h-3zM658.1 304.0h3v3h-3zM605.0 284.3h3v3h-3zM635.5 289.0h3v3h-3zM638.5 284.8h3v3h-3zM598.1 273.0h3v3h-3zM650.2 295.6h3v3h-3zM599.2 281.6h3v3h-3zM640.2 295.3h3v3h-3zM662.3 305.6h3v3h-3zM652.7 301.5h3v3h-3zM619.8 286.5h3v3h-3zM601.3 283.4h3v3h-3zM597.4 282.7h3v3h-3zM615.6 271.2h3v3h-3zM645.7 298.7h3v3h-3zM594.2 277.5h3v3h-3zM604.6 279.8h3v3h-3zM647.6 295.5h3v3h-3zM662.2 304.7h3v3h-3zM648.4 305.0h3v3h-3zM597.2 287.9h3v3h-3zM665.5 297.2h3v3h-3zM632.9 286.9h3v3h-3zM647.6 299.4h3v3h-3zM597.2 271.2h3v3h-3zM655.5 305.4h3v3h-3zM624.2 295.9h3v3h-3zM595.4 288.3h3v3h-3zM661.6 297.2h3v3h-3zM592.8 275.0h3v3h-3zM636.0 288.9h3v3h-3zM611.0 292.0h3v3h-3zM595.2 287.8h3v3h-3zM638.2 292.7h3v3h-3zM609.1 275.3h3v3h-3zM626.4 291.6h3v3h-3zM622.2 284.8h3v3h-3zM630.3 280.0h3v3h-3zM648.7 296.0h3v3h-3zM642.7 285.7h3v3h-3zM637.4 291.6h3v3h-3zM630.5 298.2h3v3h-3zM629.4 296.7h3v3h-3zM596.5 284.4h3v3h-3zM658.7 293.8h3v3h-3zM632.7 288.5h3v3h-3zM610.8 290.8h3v3h-3zM641.6 295.3h3v3h-3zM644.0 290.6h3v3h-3zM635.9 294.2h3v3h-3zM612.0 293.3h3v3h-3zM630.2 277.5h3v3h-3zM654.1 296.9h3v3h-3zM643.7 281.1h3v3h-3zM657.2 293.3h3v3h-3zM607.9 285.8h3v3h-3zM601.9 273.0h3v3h-3zM592.8 281.1h3v3h-3zM626.2 282.8h3v3h-3zM612.3 274.5h3v3h-3zM619.0 291.0h3v3h-3zM649.0 284.5h3v3h-3zM649.5 284.1h3v3h-3zM635.0 292.6h3v3h-3zM601.5 285.8h3v3h-3zM644.1 292.5h3v3h-3zM657.7 301.6h3v3h-3zM651.8 302.5h3v3h-3zM590.8 290.4h3v3h-3zM628.5 295.8h3v3h-3zM651.8 294.7h3v3h-3zM632.0 284.4h3v3h-3zM597.2 278.7h3v3h-3zM664.8 302.8h3v3h-3zM632.9 277.1h3v3h-3zM647.1 304.2h3v3h-3zM636.9 301.0h3v3h-3zM628.4 291.0h3v3h-3zM637.3 280.1h3v3h-3zM615.3 275.4h3v3h-3zM627.0 277.3h3v3h-3zM654.9 289.7h3v3h-3zM660.3 299.7h3v3h-3zM654.6 291.3h3v3h-3zM595.0 284.9h3v3h-3zM598.4 291.7h3v3h-3zM667.2 307.1h3v3h-3zM630.2 289.2h3v3h-3zM630.5 277.7h3v3h-3zM616.0 284.3h3v3h-3zM648.7 284.1h3v3h-3zM656.4 298.2h3v3h-3zM599.6 274.5h3v3h-3zM609.9 281.0h3v3h-3zM619.3 287.3h3v3h-3zM650.2 300.8h3v3h-3zM661.7 307.3h3v3h-3zM660.1 295.2h3v3h-3zM661.7 308.2h3v3h-3zM658.7 309.1h3v3h-3zM616.8 282.7h3v3h-3zM593.4 281.0h3v3h-3zM617.0 274.4h3v3h-3zM644.1 286.9h3v3h-3zM640.4 285.0h3v3h-3zM592.1 275.1h3v3h-3zM645.7 289.7h3v3h-3zM619.6 278.0h3v3h-3zM595.8 274.0h3v3h-3zM605.3 291.9h3v3h-3zM620.9 294.6h3v3h-3zM606.2 275.4h3v3h-3zM654.4 298.1h3v3h-3zM617.3 286.0h3v3h-3zM631.9 277.4h3v3h-3zM638.4 289.8h3v3h-3zM667.8 316.3h3v3h-3zM622.5 288.9h3v3h-3zM620.9 295.5h3v3h-3zM661.9 311.4h3v3h-3zM627.5 295.8h3v3h-3zM649.9 303.3h3v3h-3zM622.1 273.3h3v3h-3zM644.2 290.3h3v3h-3zM611.8 280.4h3v3h-3zM600.7 287.0h3v3h-3zM606.6 281.2h3v3h-3zM611.1 274.0h3v3h-3zM625.2 290.6h3v3h-3zM632.1 280.9h3v3h-3zM641.5 298.1h3v3h-3zM643.8 287.9h3v3h-3zM613.6 290.5h3v3h-3zM655.2 302.8h3v3h-3zM654.1 302.3h3v3h-3zM646.1 292.1h3v3h-3zM616.7 277.9h3v3h-3zM595.6 280.4h3v3h-3zM668.1 318.2h3v3h-3zM601.9 272.2h3v3h-3zM597.4 268.5h3v3h-3zM651.7 285.9h3v3h-3zM617.5 287.8h3v3h-3zM644.1 300.6h3v3h-3zM657.3 292.5h3v3h-3zM631.6 295.2h3v3h-3zM593.7 278.0h3v3h-3zM610.5 282.1h3v3h-3zM657.5 296.7h3v3h-3zM596.5 276.1h3v3h-3zM663.6 299.6h3v3h-3zM603.0 280.7h3v3h-3zM648.1 297.0h3v3h-3zM657.3 295.5h3v3h-3zM601.8 272.4h3v3h-3zM646.3 287.8h3v3h-3zM612.6 288.4h3v3h-3zM629.7 282.2h3v3h-3zM643.9 297.6h3v3h-3zM595.9 279.7h3v3h-3zM599.2 286.7h3v3h-3zM654.7 294.6h3v3h-3zM597.6 285.4h3v3h-3zM645.2 304.1h3v3h-3zM627.8 279.3h3v3h-3zM653.2 302.4h3v3h-3zM651.7 287.6h3v3h-3zM615.4 283.8h3v3h-3zM596.1 289.1h3v3h-3zM625.9 295.1h3v3h-3zM636.5 289.1h3v3h-3zM601.1 282.6h3v3h-3zM632.0 278.0h3v3h-3zM662.0 304.8h3v3h-3zM634.3 284.3h3v3h-3zM618.5 284.4h3v3h-3zM603.8 289.6h3v3h-3zM616.3 285.6h3v3h-3zM659.4 290.6h3v3h-3zM651.1 292.9h3v3h-3zM654.4 303.6h3v3h-3zM640.9 283.1h3v3h-3zM628.2 276.7h3v3h-3zM601.2 287.7h3v3h-3zM591.9 291.3h3v3h-3zM665.2 312.9h3v3h-3zM626.0 296.3h3v3h-3zM660.2 306.3h3v3h-3zM592.0 276.8h3v3h-3zM606.2 283.4h3v3h-3zM624.0 279.3h3v3h-3zM629.2 289.4h3v3h-3zM599.6 282.8h3v3h-3zM643.0 302.4h3v3h-3zM629.2 279.7h3v3h-3zM654.2 296.7h3v3h-3zM626.3 279.7h3v3h-3zM611.8 270.0h3v3h-3zM634.6 296.7h3v3h-3zM600.0 288.3h3v3h-3zM657.2 301.8h3v3h-3zM655.6 297.3h3v3h-3zM667.0 312.3h3v3h-3zM647.9 292.9h3v3h-3zM623.1 289.8h3v3h-3zM669.1 318.7h3v3h-3zM639.4 297.3h3v3h-3zM662.3 309.9h3v3h-3zM665.5 304.6h3v3h-3zM595.3 278.5h3v3h-3zM649.8 294.0h3v3h-3zM662.5 311.1h3v3h-3zM594.2 277.1h3v3h-3zM667.2 315.6h3v3h-3zM645.1 297.7h3v3h-3zM649.3 300.7h3v3h-3zM595.3 291.9h3v3h-3zM635.0 296.8h3v3h-3zM602.2 279.9h3v3h-3zM662.1 310.5h3v3h-3zM628.3 278.5h3v3h-3zM629.3 278.5h3v3h-3zM638.9 281.2h3v3h-3zM616.2 276.6h3v3h-3zM644.5 282.2h3v3h-3zM646.3 290.0h3v3h-3zM608.5 277.8h3v3h-3zM647.0 300.8h3v3h-3zM633.2 296.6h3v3h-3zM640.5 301.5h3v3h-3zM633.1 281.7h3v3h-3zM627.1 294.9h3v3h-3zM664.8 308.0h3v3h-3zM652.4 299.6h3v3h-3zM627.7 285.7h3v3h-3zM602.6 279.6h3v3h-3zM629.9 275.2h3v3h-3zM628.6 274.4h3v3h-3zM653.0 303.4h3v3h-3zM601.1 275.1h3v3h-3zM632.8 281.2h3v3h-3zM633.1 295.6h3v3h-3zM644.9 296.4h3v3h-3zM612.0 285.9h3v3h-3zM656.4 301.1h3v3h-3zM651.4 288.2h3v3h-3zM591.3 283.0h3v3h-3zM646.3 300.8h3v3h-3zM563.8 278.4h3v3h-3zM560.4 273.9h3v3h-3zM563.3 294.8h3v3h-3zM564.8 277.5h3v3h-3zM563.2 277.4h3v3h-3zM562.2 291.5h3v3h-3zM562.8 303.1h3v3h-3zM588.3 283.9h3v3h-3zM590.9 271.5h3v3h-3zM588.2 279.7h3v3h-3zM587.4 271.0h3v3h-3zM588.9 294.9h3v3h-3zM589.0 286.1h3v3h-3zM564.0 298.5h3v3h-3zM564.5 307.5h3v3h-3zM589.0 294.5h3v3h-3zM589.0 301.5h3v3h-3zM589.1 309.5h3v3h-3zM458.7 190.3h3v3h-3zM479.6 188.6h3v3h-3zM442.5 189.4h3v3h-3zM467.0 189.4h3v3h-3zM471.3 189.4h3v3h-3zM471.3 188.1h3v3h-3zM442.9 187.9h3v3h-3zM462.4 190.0h3v3h-3zM456.9 187.8h3v3h-3zM447.3 189.2h3v3h-3zM450.5 189.4h3v3h-3zM438.5 189.4h3v3h-3zM465.9 187.6h3v3h-3zM471.4 187.4h3v3h-3zM476.8 188.9h3v3h-3zM452.8 186.2h3v3h-3zM445.3 190.5h3v3h-3zM472.6 187.8h3v3h-3zM466.5 188.4h3v3h-3zM479.6 188.8h3v3h-3zM447.8 189.9h3v3h-3zM456.1 188.4h3v3h-3zM437.9 189.7h3v3h-3zM481.0 190.3h3v3h-3zM466.3 187.9h3v3h-3zM452.8 189.4h3v3h-3zM473.2 188.9h3v3h-3zM459.6 187.9h3v3h-3zM473.1 188.6h3v3h-3zM434.6 190.2h3v3h-3zM437.5 190.5h3v3h-3zM435.3 187.1h3v3h-3zM455.5 189.7h3v3h-3zM476.5 188.4h3v3h-3zM512.2 274.6h3v3h-3zM478.1 214.6h3v3h-3zM517.3 281.8h3v3h-3zM438.4 209.8h3v3h-3zM515.0 292.2h3v3h-3zM505.1 254.9h3v3h-3zM460.5 195.3h3v3h-3zM449.5 207.4h3v3h-3zM494.1 225.6h3v3h-3zM444.2 221.4h3v3h-3zM486.7 230.5h3v3h-3zM503.3 238.5h3v3h-3zM495.3 219.8h3v3h-3zM492.7 213.9h3v3h-3zM517.3 253.8h3v3h-3zM480.5 213.3h3v3h-3zM459.0 210.3h3v3h-3zM484.7 231.5h3v3h-3zM461.0 235.4h3v3h-3zM458.0 218.9h3v3h-3zM460.1 210.0h3v3h-3zM505.7 240.8h3v3h-3zM445.0 228.0h3v3h-3zM463.3 209.0h3v3h-3zM479.3 194.5h3v3h-3zM480.3 231.4h3v3h-3zM505.8 234.4h3v3h-3zM497.1 229.9h3v3h-3zM516.4 257.4h3v3h-3zM488.7 246.8h3v3h-3zM514.8 291.5h3v3h-3zM486.9 208.8h3v3h-3zM437.2 203.7h3v3h-3zM472.2 198.9h3v3h-3zM462.3 209.1h3v3h-3zM492.5 243.0h3v3h-3zM480.7 212.7h3v3h-3zM492.5 206.4h3v3h-3zM464.4 225.9h3v3h-3zM479.0 208.1h3v3h-3zM508.3 274.3h3v3h-3zM484.7 250.0h3v3h-3zM503.7 240.3h3v3h-3zM506.3 258.0h3v3h-3zM445.9 215.2h3v3h-3zM506.7 272.3h3v3h-3zM445.7 229.9h3v3h-3zM474.0 199.3h3v3h-3zM486.3 237.9h3v3h-3zM489.3 250.3h3v3h-3zM512.5 271.8h3v3h-3zM475.5 239.2h3v3h-3zM497.3 217.5h3v3h-3zM453.1 237.4h3v3h-3zM450.6 221.9h3v3h-3zM461.5 215.3h3v3h-3zM450.2 226.9h3v3h-3zM442.1 206.9h3v3h-3zM478.2 235.4h3v3h-3zM465.6 222.0h3v3h-3zM473.3 232.9h3v3h-3zM472.5 221.4h3v3h-3zM435.2 206.8h3v3h-3zM439.1 206.0h3v3h-3zM464.9 245.9h3v3h-3zM467.8 230.0h3v3h-3zM468.0 220.5h3v3h-3zM451.1 212.8h3v3h-3zM464.2 216.8h3v3h-3zM469.6 240.9h3v3h-3zM467.1 238.4h3v3h-3zM451.3 212.5h3v3h-3zM470.3 227.1h3v3h-3zM458.5 241.8h3v3h-3zM466.3 221.0h3v3h-3zM465.8 226.2h3v3h-3zM463.4 218.2h3v3h-3zM476.5 230.0h3v3h-3zM471.7 243.2h3v3h-3zM455.2 235.5h3v3h-3zM447.2 218.8h3v3h-3zM454.3 220.7h3v3h-3zM474.8 244.5h3v3h-3zM470.6 226.9h3v3h-3zM452.0 232.8h3v3h-3zM444.4 229.1h3v3h-3zM458.2 211.3h3v3h-3zM456.9 235.8h3v3h-3zM463.1 217.1h3v3h-3zM464.3 228.0h3v3h-3zM464.2 244.7h3v3h-3zM459.5 218.2h3v3h-3zM457.7 212.3h3v3h-3zM476.2 243.5h3v3h-3zM484.3 252.3h3v3h-3zM475.8 232.8h3v3h-3zM463.3 229.6h3v3h-3zM456.5 225.9h3v3h-3zM480.6 239.9h3v3h-3zM481.1 245.8h3v3h-3zM473.7 239.1h3v3h-3zM491.0 257.9h3v3h-3zM463.0 242.2h3v3h-3zM457.1 223.8h3v3h-3zM442.9 209.4h3v3h-3zM454.8 226.3h3v3h-3zM479.8 243.0h3v3h-3zM440.5 221.9h3v3h-3zM450.7 231.6h3v3h-3zM466.7 230.9h3v3h-3zM523.1 314.4h3v3h-3zM520.7 310.1h3v3h-3zM528.3 307.5h3v3h-3zM529.6 304.5h3v3h-3zM507.1 288.5h3v3h-3zM506.8 285.7h3v3h-3zM525.2 316.7h3v3h-3zM525.6 294.1h3v3h-3zM513.3 299.2h3v3h-3zM513.0 294.2h3v3h-3zM519.8 311.3h3v3h-3zM517.7 306.4h3v3h-3zM517.5 295.5h3v3h-3zM525.4 306.7h3v3h-3zM531.4 319.3h3v3h-3zM521.1 306.8h3v3h-3zM518.9 306.0h3v3h-3zM531.0 315.9h3v3h-3zM518.2 289.7h3v3h-3zM507.3 288.7h3v3h-3zM519.0 294.6h3v3h-3zM526.3 301.0h3v3h-3zM531.3 308.3h3v3h-3zM515.7 304.0h3v3h-3zM528.3 316.1h3v3h-3zM520.1 304.0h3v3h-3zM529.2 302.0h3v3h-3zM518.3 290.4h3v3h-3zM511.5 350.4h3v3h-3zM540.7 360.9h3v3h-3zM512.2 340.9h3v3h-3zM534.8 356.5h3v3h-3zM525.3 320.1h3v3h-3zM528.7 327.4h3v3h-3zM519.8 376.0h3v3h-3zM545.7 370.2h3v3h-3zM538.7 369.1h3v3h-3zM525.4 362.3h3v3h-3zM509.2 348.1h3v3h-3zM522.8 355.9h3v3h-3zM543.2 360.3h3v3h-3zM502.9 343.8h3v3h-3zM515.3 349.1h3v3h-3zM519.0 373.8h3v3h-3zM536.5 370.0h3v3h-3zM512.9 361.1h3v3h-3zM520.1 331.9h3v3h-3zM532.9 377.5h3v3h-3zM516.1 352.2h3v3h-3zM529.4 355.4h3v3h-3zM514.8 328.2h3v3h-3zM537.1 353.8h3v3h-3zM521.8 367.0h3v3h-3zM529.8 326.7h3v3h-3zM540.9 375.6h3v3h-3zM520.7 320.9h3v3h-3zM517.3 322.5h3v3h-3zM512.4 347.6h3v3h-3zM535.7 353.0h3v3h-3zM536.9 369.6h3v3h-3zM513.1 349.0h3v3h-3zM517.3 344.3h3v3h-3zM545.5 370.6h3v3h-3zM534.6 367.2h3v3h-3zM536.4 347.3h3v3h-3zM522.6 332.7h3v3h-3zM522.3 325.4h3v3h-3zM535.9 369.1h3v3h-3zM506.2 329.0h3v3h-3zM521.1 347.3h3v3h-3zM541.4 358.1h3v3h-3zM534.8 360.3h3v3h-3zM502.9 338.8h3v3h-3zM539.2 353.9h3v3h-3zM534.7 371.4h3v3h-3zM513.4 329.0h3v3h-3zM525.1 369.2h3v3h-3zM533.3 348.6h3v3h-3zM514.8 367.4h3v3h-3zM527.2 353.8h3v3h-3zM520.6 372.4h3v3h-3zM514.3 333.2h3v3h-3zM513.9 348.3h3v3h-3zM536.7 369.5h3v3h-3zM531.1 373.5h3v3h-3zM530.3 375.0h3v3h-3zM506.0 352.9h3v3h-3zM529.9 352.1h3v3h-3zM536.7 361.5h3v3h-3zM538.1 352.1h3v3h-3zM518.1 319.7h3v3h-3zM522.9 357.4h3v3h-3zM513.6 352.4h3v3h-3zM516.2 358.1h3v3h-3zM513.9 329.9h3v3h-3zM543.1 370.4h3v3h-3zM520.1 342.9h3v3h-3zM520.3 339.7h3v3h-3zM520.2 365.2h3v3h-3zM530.5 332.1h3v3h-3zM518.7 360.1h3v3h-3zM544.4 371.1h3v3h-3zM530.0 326.1h3v3h-3zM502.9 335.1h3v3h-3zM524.3 351.1h3v3h-3zM521.6 335.4h3v3h-3zM532.7 349.0h3v3h-3zM527.9 329.8h3v3h-3zM522.3 338.8h3v3h-3zM527.4 326.8h3v3h-3zM506.2 330.4h3v3h-3zM530.4 360.1h3v3h-3zM543.0 373.2h3v3h-3zM518.7 372.9h3v3h-3zM532.7 354.9h3v3h-3zM528.1 329.3h3v3h-3zM531.5 370.9h3v3h-3zM546.6 371.1h3v3h-3zM517.8 322.8h3v3h-3zM530.8 373.0h3v3h-3zM528.1 364.3h3v3h-3zM519.7 358.8h3v3h-3zM519.1 335.5h3v3h-3zM534.2 352.4h3v3h-3zM513.9 348.6h3v3h-3zM529.9 361.7h3v3h-3zM528.5 321.2h3v3h-3zM518.8 352.7h3v3h-3zM521.4 369.5h3v3h-3zM511.0 347.5h3v3h-3zM522.4 335.3h3v3h-3zM521.8 320.7h3v3h-3zM501.6 348.4h3v3h-3zM529.1 332.9h3v3h-3zM519.5 376.2h3v3h-3zM502.2 346.6h3v3h-3zM522.7 353.5h3v3h-3zM522.6 372.9h3v3h-3zM518.3 337.2h3v3h-3zM518.7 350.3h3v3h-3zM509.8 331.0h3v3h-3zM535.1 345.4h3v3h-3zM520.3 363.6h3v3h-3zM515.9 325.8h3v3h-3zM514.3 351.5h3v3h-3zM526.5 366.6h3v3h-3zM535.1 373.5h3v3h-3zM518.4 371.5h3v3h-3zM540.5 369.2h3v3h-3zM522.3 346.8h3v3h-3zM525.5 319.4h3v3h-3zM515.3 335.7h3v3h-3zM530.3 367.3h3v3h-3zM517.7 321.8h3v3h-3zM515.7 335.3h3v3h-3zM518.0 325.6h3v3h-3zM517.5 366.5h3v3h-3zM508.3 358.8h3v3h-3zM536.2 351.7h3v3h-3zM533.7 338.1h3v3h-3zM519.9 338.8h3v3h-3zM524.2 376.4h3v3h-3zM509.3 346.9h3v3h-3zM524.5 349.6h3v3h-3zM541.8 362.3h3v3h-3zM532.6 340.8h3v3h-3zM524.6 375.8h3v3h-3zM538.7 368.9h3v3h-3zM540.9 363.3h3v3h-3zM543.5 366.5h3v3h-3zM512.8 350.3h3v3h-3zM516.2 352.0h3v3h-3zM536.4 366.0h3v3h-3zM508.9 348.1h3v3h-3zM525.3 368.9h3v3h-3zM523.3 355.3h3v3h-3zM520.3 344.9h3v3h-3zM512.3 344.3h3v3h-3zM525.6 370.4h3v3h-3zM518.7 357.2h3v3h-3zM515.2 369.8h3v3h-3zM522.5 355.0h3v3h-3zM522.6 332.7h3v3h-3zM531.4 363.8h3v3h-3zM534.9 373.2h3v3h-3zM514.2 329.9h3v3h-3zM534.4 377.5h3v3h-3zM521.9 344.8h3v3h-3zM505.6 356.6h3v3h-3zM523.7 351.1h3v3h-3zM521.1 329.5h3v3h-3zM519.2 366.2h3v3h-3zM520.7 339.0h3v3h-3zM521.3 362.0h3v3h-3zM520.2 351.9h3v3h-3zM537.2 361.8h3v3h-3zM504.8 336.2h3v3h-3zM524.0 362.2h3v3h-3zM508.4 341.2h3v3h-3zM518.9 333.2h3v3h-3zM517.7 339.4h3v3h-3zM537.2 353.6h3v3h-3zM514.0 334.2h3v3h-3zM531.8 369.6h3v3h-3zM527.0 344.8h3v3h-3zM528.9 328.0h3v3h-3zM533.7 365.7h3v3h-3zM519.9 375.6h3v3h-3zM536.4 373.6h3v3h-3zM520.3 328.0h3v3h-3zM505.0 341.0h3v3h-3zM509.0 332.2h3v3h-3zM531.4 321.5h3v3h-3zM516.5 350.2h3v3h-3zM543.5 371.0h3v3h-3zM522.2 370.9h3v3h-3zM503.8 331.1h3v3h-3zM520.6 342.7h3v3h-3zM402.2 301.7h3v3h-3zM425.4 329.0h3v3h-3zM498.1 341.3h3v3h-3zM478.1 331.0h3v3h-3zM474.7 340.2h3v3h-3zM414.3 339.9h3v3h-3zM501.2 340.3h3v3h-3zM458.5 345.1h3v3h-3zM466.4 347.4h3v3h-3zM407.0 326.6h3v3h-3zM418.2 322.9h3v3h-3zM403.7 326.5h3v3h-3zM465.6 345.5h3v3h-3zM493.2 344.1h3v3h-3zM408.8 325.3h3v3h-3zM444.9 325.7h3v3h-3zM420.7 334.0h3v3h-3zM454.3 326.0h3v3h-3zM420.8 324.1h3v3h-3zM424.1 340.3h3v3h-3zM465.1 353.6h3v3h-3zM422.3 338.0h3v3h-3zM443.4 330.5h3v3h-3zM498.9 332.0h3v3h-3zM455.5 326.4h3v3h-3zM405.7 324.0h3v3h-3zM426.0 339.5h3v3h-3zM482.7 352.2h3v3h-3zM437.8 336.6h3v3h-3zM434.2 326.4h3v3h-3zM438.0 325.9h3v3h-3zM478.2 337.8h3v3h-3zM413.0 309.5h3v3h-3zM454.0 327.4h3v3h-3zM429.0 328.4h3v3h-3zM455.2 333.5h3v3h-3zM500.8 333.9h3v3h-3zM498.7 343.0h3v3h-3zM417.0 315.7h3v3h-3zM437.3 329.2h3v3h-3zM447.9 324.8h3v3h-3zM439.4 325.5h3v3h-3zM453.6 335.3h3v3h-3zM462.0 336.4h3v3h-3zM489.5 332.8h3v3h-3zM406.0 331.3h3v3h-3zM428.6 325.0h3v3h-3zM419.4 323.4h3v3h-3zM424.8 327.0h3v3h-3zM450.9 337.1h3v3h-3zM488.4 340.6h3v3h-3zM442.7 334.4h3v3h-3zM420.7 340.2h3v3h-3zM450.5 327.6h3v3h-3zM422.8 311.1h3v3h-3zM495.2 340.6h3v3h-3zM485.7 340.3h3v3h-3zM442.6 331.6h3v3h-3zM409.2 316.6h3v3h-3zM441.2 328.9h3v3h-3zM456.3 326.8h3v3h-3zM483.0 346.9h3v3h-3zM502.5 345.8h3v3h-3zM428.0 316.2h3v3h-3zM415.7 327.2h3v3h-3zM494.2 348.5h3v3h-3zM440.2 337.4h3v3h-3zM461.8 341.6h3v3h-3zM431.1 316.2h3v3h-3zM403.1 319.7h3v3h-3zM400.0 306.2h3v3h-3zM407.7 324.1h3v3h-3zM501.2 332.8h3v3h-3zM423.4 316.7h3v3h-3zM443.7 341.0h3v3h-3zM423.0 311.3h3v3h-3zM425.4 326.8h3v3h-3zM413.5 323.2h3v3h-3zM438.2 342.5h3v3h-3zM420.7 338.0h3v3h-3zM485.7 346.0h3v3h-3zM434.9 341.4h3v3h-3zM491.0 331.2h3v3h-3zM421.3 321.2h3v3h-3zM491.7 336.2h3v3h-3zM424.6 344.7h3v3h-3zM417.9 309.4h3v3h-3zM419.7 314.2h3v3h-3zM446.1 346.5h3v3h-3zM415.8 327.4h3v3h-3zM421.8 319.2h3v3h-3zM449.5 342.2h3v3h-3zM491.4 329.6h3v3h-3zM429.5 319.5h3v3h-3zM431.9 342.5h3v3h-3zM410.8 336.7h3v3h-3zM465.5 329.1h3v3h-3zM482.3 327.5h3v3h-3zM496.3 331.5h3v3h-3zM411.7 323.7h3v3h-3zM426.8 315.4h3v3h-3zM414.7 333.6h3v3h-3zM421.8 317.8h3v3h-3zM401.0 308.2h3v3h-3zM416.8 315.6h3v3h-3zM442.3 348.6h3v3h-3zM433.7 329.0h3v3h-3zM414.3 336.2h3v3h-3zM501.5 329.9h3v3h-3zM459.1 331.0h3v3h-3zM437.9 338.8h3v3h-3zM420.8 330.5h3v3h-3zM447.2 335.0h3v3h-3zM417.5 319.8h3v3h-3zM449.0 338.1h3v3h-3zM419.0 314.0h3v3h-3zM487.2 334.3h3v3h-3zM413.3 327.2h3v3h-3zM413.1 315.4h3v3h-3zM492.0 338.5h3v3h-3zM441.3 335.7h3v3h-3zM421.0 332.0h3v3h-3zM444.8 350.2h3v3h-3zM499.3 348.9h3v3h-3zM447.5 329.1h3v3h-3zM402.4 318.6h3v3h-3zM402.1 305.1h3v3h-3zM451.5 327.2h3v3h-3zM496.1 343.6h3v3h-3zM408.3 310.0h3v3h-3zM459.8 342.5h3v3h-3zM496.6 346.0h3v3h-3zM437.4 341.5h3v3h-3zM422.3 336.3h3v3h-3zM478.6 347.7h3v3h-3zM426.2 326.9h3v3h-3zM456.7 341.4h3v3h-3zM426.3 328.0h3v3h-3zM435.5 346.7h3v3h-3zM458.2 346.3h3v3h-3zM453.1 335.9h3v3h-3zM487.3 340.4h3v3h-3zM433.1 317.2h3v3h-3zM451.0 325.7h3v3h-3zM460.6 326.8h3v3h-3zM473.9 329.1h3v3h-3zM433.2 336.5h3v3h-3zM414.7 328.7h3v3h-3zM402.2 305.7h3v3h-3zM495.7 327.6h3v3h-3zM404.1 301.7h3v3h-3zM402.6 319.2h3v3h-3zM408.9 309.8h3v3h-3zM475.7 332.0h3v3h-3zM488.4 336.7h3v3h-3zM435.8 337.0h3v3h-3zM458.4 348.1h3v3h-3zM413.8 336.1h3v3h-3zM448.1 335.5h3v3h-3zM483.1 341.2h3v3h-3zM478.6 338.1h3v3h-3zM482.8 342.8h3v3h-3zM421.5 341.5h3v3h-3zM451.5 344.1h3v3h-3zM413.4 333.0h3v3h-3zM495.1 341.8h3v3h-3zM446.3 323.2h3v3h-3zM474.5 352.4h3v3h-3zM416.6 322.6h3v3h-3zM440.3 322.8h3v3h-3zM419.1 315.7h3v3h-3zM463.1 350.5h3v3h-3zM418.1 335.5h3v3h-3zM408.1 325.0h3v3h-3zM417.5 323.7h3v3h-3zM495.2 350.7h3v3h-3zM458.8 329.3h3v3h-3zM434.2 341.7h3v3h-3zM420.0 338.6h3v3h-3zM442.4 345.7h3v3h-3zM428.9 329.4h3v3h-3zM487.0 332.8h3v3h-3zM485.9 336.7h3v3h-3zM459.7 334.9h3v3h-3zM417.3 340.1h3v3h-3zM486.7 343.7h3v3h-3zM430.5 323.8h3v3h-3zM407.4 328.9h3v3h-3zM452.6 330.6h3v3h-3zM494.5 328.5h3v3h-3zM483.4 336.2h3v3h-3zM403.6 330.6h3v3h-3zM439.2 325.0h3v3h-3zM439.2 333.6h3v3h-3zM476.5 333.9h3v3h-3zM452.0 342.0h3v3h-3zM477.5 351.0h3v3h-3zM453.0 330.9h3v3h-3zM414.7 315.6h3v3h-3zM425.1 312.9h3v3h-3zM489.0 329.5h3v3h-3zM409.4 305.2h3v3h-3zM499.5 331.1h3v3h-3zM483.1 335.7h3v3h-3zM401.7 320.7h3v3h-3zM444.6 346.7h3v3h-3zM423.4 333.6h3v3h-3zM464.7 353.8h3v3h-3zM430.7 346.6h3v3h-3zM411.8 315.3h3v3h-3zM427.4 329.5h3v3h-3zM445.0 324.7h3v3h-3zM477.5 349.4h3v3h-3zM498.4 347.9h3v3h-3zM457.6 349.3h3v3h-3zM484.6 334.8h3v3h-3zM439.1 327.1h3v3h-3zM421.4 322.8h3v3h-3zM427.8 344.1h3v3h-3zM454.4 338.5h3v3h-3zM426.2 330.9h3v3h-3zM445.0 348.3h3v3h-3zM489.2 328.2h3v3h-3zM442.6 324.5h3v3h-3zM430.4 342.9h3v3h-3zM420.0 337.8h3v3h-3zM459.8 348.0h3v3h-3zM405.6 305.6h3v3h-3zM426.5 315.4h3v3h-3zM405.6 315.9h3v3h-3zM477.0 353.3h3v3h-3zM421.6 323.6h3v3h-3zM504.0 361.6h3v3h-3zM489.8 369.7h3v3h-3zM505.8 346.8h3v3h-3zM485.8 336.8h3v3h-3zM486.5 366.9h3v3h-3zM488.3 343.0h3v3h-3zM423.9 338.9h3v3h-3zM407.3 322.5h3v3h-3zM435.4 342.8h3v3h-3zM476.2 356.3h3v3h-3zM489.0 343.0h3v3h-3zM500.6 356.3h3v3h-3zM480.7 367.9h3v3h-3zM485.4 359.5h3v3h-3zM411.8 326.1h3v3h-3zM498.9 338.5h3v3h-3zM417.4 326.1h3v3h-3zM404.2 326.5h3v3h-3zM457.1 356.2h3v3h-3zM469.1 345.5h3v3h-3zM425.5 340.2h3v3h-3zM505.4 345.5h3v3h-3zM455.4 349.7h3v3h-3zM415.4 323.5h3v3h-3zM479.5 369.1h3v3h-3zM490.0 353.2h3v3h-3zM457.9 363.3h3v3h-3zM468.4 347.6h3v3h-3zM433.5 344.7h3v3h-3zM457.5 365.7h3v3h-3zM488.9 344.0h3v3h-3zM445.9 341.2h3v3h-3zM472.5 350.2h3v3h-3zM416.3 326.0h3v3h-3zM476.7 343.4h3v3h-3zM493.9 366.3h3v3h-3zM474.6 338.0h3v3h-3zM414.7 325.7h3v3h-3zM448.1 349.1h3v3h-3zM506.6 352.0h3v3h-3zM424.0 334.7h3v3h-3zM416.8 322.3h3v3h-3zM427.8 348.4h3v3h-3zM422.3 348.1h3v3h-3zM420.4 331.1h3v3h-3zM437.5 328.3h3v3h-3zM467.2 337.1h3v3h-3zM486.5 352.9h3v3h-3zM434.4 355.8h3v3h-3zM515.3 368.7h3v3h-3zM504.9 351.6h3v3h-3zM426.0 333.1h3v3h-3zM508.6 354.7h3v3h-3zM503.3 346.4h3v3h-3zM416.6 342.5h3v3h-3zM469.1 368.1h3v3h-3zM422.6 348.5h3v3h-3zM416.7 323.8h3v3h-3zM385.3 323.3h3v3h-3zM391.1 327.8h3v3h-3zM378.7 343.5h3v3h-3zM389.9 310.9h3v3h-3zM386.9 310.8h3v3h-3zM376.8 318.6h3v3h-3zM378.1 338.7h3v3h-3zM385.4 300.8h3v3h-3zM394.5 300.8h3v3h-3zM381.1 329.5h3v3h-3zM386.4 301.3h3v3h-3zM371.0 304.6h3v3h-3zM385.4 311.7h3v3h-3zM394.1 318.0h3v3h-3zM373.4 334.5h3v3h-3zM397.2 334.7h3v3h-3zM373.7 305.7h3v3h-3zM376.6 341.6h3v3h-3zM376.3 334.9h3v3h-3zM385.8 305.6h3v3h-3zM399.4 306.4h3v3h-3zM389.3 311.3h3v3h-3zM374.3 308.2h3v3h-3zM373.5 342.8h3v3h-3zM384.3 305.0h3v3h-3zM380.6 336.2h3v3h-3zM388.0 300.5h3v3h-3zM398.2 299.3h3v3h-3zM371.6 317.1h3v3h-3zM383.7 327.2h3v3h-3zM398.4 301.2h3v3h-3zM374.9 329.2h3v3h-3zM374.2 329.5h3v3h-3zM389.1 338.7h3v3h-3zM398.0 304.5h3v3h-3zM382.7 312.2h3v3h-3zM390.1 303.5h3v3h-3zM390.6 321.6h3v3h-3zM383.8 306.8h3v3h-3zM376.0 351.4h3v3h-3zM379.9 311.5h3v3h-3zM391.8 318.4h3v3h-3zM376.3 331.9h3v3h-3zM391.4 328.6h3v3h-3zM377.6 324.4h3v3h-3zM576.0 235.1h3v3h-3zM571.9 231.4h3v3h-3zM525.2 278.5h3v3h-3zM664.8 274.1h3v3h-3zM528.8 269.1h3v3h-3zM644.3 275.8h3v3h-3zM529.6 240.8h3v3h-3zM564.5 228.9h3v3h-3zM626.1 257.7h3v3h-3zM534.7 265.7h3v3h-3zM593.1 250.2h3v3h-3zM598.0 265.6h3v3h-3zM612.5 256.1h3v3h-3zM565.4 245.1h3v3h-3zM535.9 268.0h3v3h-3zM623.6 269.1h3v3h-3zM637.2 274.9h3v3h-3zM527.8 266.8h3v3h-3zM595.3 252.0h3v3h-3zM560.1 234.5h3v3h-3zM539.7 231.9h3v3h-3zM669.2 268.4h3v3h-3zM585.5 250.9h3v3h-3zM586.0 268.3h3v3h-3zM550.5 232.7h3v3h-3zM618.1 250.3h3v3h-3zM519.7 274.4h3v3h-3zM675.2 278.3h3v3h-3zM550.5 248.8h3v3h-3zM671.4 267.3h3v3h-3zM697.1 344.3h3v3h-3zM705.0 340.2h3v3h-3zM701.9 317.9h3v3h-3zM707.4 335.7h3v3h-3zM704.6 321.1h3v3h-3zM699.4 323.6h3v3h-3zM710.2 312.3h3v3h-3zM714.2 300.9h3v3h-3zM704.4 357.7h3v3h-3zM686.1 316.4h3v3h-3zM688.4 322.9h3v3h-3zM697.3 303.7h3v3h-3zM706.5 350.2h3v3h-3zM705.2 344.7h3v3h-3zM688.3 339.6h3v3h-3zM703.7 318.2h3v3h-3zM689.4 310.9h3v3h-3zM711.5 304.6h3v3h-3zM709.4 299.6h3v3h-3zM692.7 306.3h3v3h-3zM698.7 312.2h3v3h-3zM698.0 351.7h3v3h-3zM695.3 362.6h3v3h-3zM694.3 344.8h3v3h-3zM707.8 348.5h3v3h-3zM706.0 360.5h3v3h-3zM700.5 365.8h3v3h-3zM678.3 341.0h3v3h-3zM702.7 299.7h3v3h-3zM690.2 352.1h3v3h-3zM693.8 355.4h3v3h-3zM692.6 343.1h3v3h-3zM695.8 343.9h3v3h-3zM698.8 360.7h3v3h-3zM698.6 347.9h3v3h-3zM686.9 351.4h3v3h-3zM695.8 353.9h3v3h-3zM684.8 343.3h3v3h-3zM685.4 357.6h3v3h-3zM699.3 362.2h3v3h-3zM690.1 348.8h3v3h-3zM682.0 352.1h3v3h-3zM698.4 359.6h3v3h-3zM696.3 349.8h3v3h-3zM698.4 364.4h3v3h-3zM681.7 350.2h3v3h-3zM691.5 345.5h3v3h-3zM689.4 341.4h3v3h-3zM702.1 354.3h3v3h-3zM700.2 349.5h3v3h-3zM700.2 348.9h3v3h-3zM698.1 356.5h3v3h-3zM519.5 222.5h3v3h-3zM427.8 162.0h3v3h-3zM422.5 170.8h3v3h-3zM380.1 158.5h3v3h-3zM774.5 399.5h3v3h-3zM780.5 399.5h3v3h-3zM775.5 405.0h3v3h-3zM769.5 406.5h3v3h-3zM698.5 414.5h3v3h-3zM758.5 410.5h3v3h-3zM735.5 406.5h3v3h-3zM405.5 371.5h3v3h-3zM502.5 382.5h3v3h-3zM515.5 383.5h3v3h-3zM446.5 364.5h3v3h-3zM468.5 362.5h3v3h-3zM450.5 359.5h3v3h-3zM395.5 355.5h3v3h-3z"/>
</g>
<clipPath id="c"><rect x="126.6" y="9.3" width="668.5" height="567.0"/></clipPath><g clip-path="url(#c)">
<line x1="126.60" y1="131.55" x2="795.10" y2="390.21" stroke="#ff0000" stroke-width="1.5"/>
<line x1="126.60" y1="66.72" x2="795.10" y2="506.16" stroke="#008000" stroke-width="1.5"/>
<line x1="126.60" y1="89.33" x2="795.10" y2="453.03" stroke="#0000ff" stroke-width="1.5"/>
<line x1="126.60" y1="347.79" x2="795.10" y2="393.16" stroke="#ff9900" stroke-width="1.5"/>
</g>
<path d="M148.26 576.3v-6.5M148.26 9.3v6.5M158.54 576.3v-12.5M158.54 9.3v12.5M190.47 576.3v-6.5M190.47 9.3v6.5M232.69 576.3v-6.5M232.69 9.3v6.5M254.35 576.3v-6.5M254.35 9.3v6.5M264.63 576.3v-12.5M264.63 9.3v12.5M296.57 576.3v-6.5M296.57 9.3v6.5M338.79 576.3v-6.5M338.79 9.3v6.5M360.44 576.3v-6.5M360.44 9.3v6.5M370.72 576.3v-12.5M370.72 9.3v12.5M402.66 576.3v-6.5M402.66 9.3v6.5M444.88 576.3v-6.5M444.88 9.3v6.5M466.54 576.3v-6.5M466.54 9.3v6.5M476.82 576.3v-12.5M476.82 9.3v12.5M508.76 576.3v-6.5M508.76 9.3v6.5M550.98 576.3v-6.5M550.98 9.3v6.5M572.63 576.3v-6.5M572.63 9.3v6.5M582.91 576.3v-12.5M582.91 9.3v12.5M614.85 576.3v-6.5M614.85 9.3v6.5M657.07 576.3v-6.5M657.07 9.3v6.5M678.72 576.3v-6.5M678.72 9.3v6.5M689.01 576.3v-12.5M689.01 9.3v12.5M720.94 576.3v-6.5M720.94 9.3v6.5M763.16 576.3v-6.5M763.16 9.3v6.5M784.82 576.3v-6.5M784.82 9.3v6.5M126.6 547.95h6.5M795.1 547.95h-6.5M126.6 519.60h12.5M795.1 519.60h-12.5M126.6 491.25h6.5M795.1 491.25h-6.5M126.6 462.90h12.5M795.1 462.90h-12.5M126.6 434.55h6.5M795.1 434.55h-6.5M126.6 406.20h12.5M795.1 406.20h-12.5M126.6 377.85h6.5M795.1 377.85h-6.5M126.6 349.50h12.5M795.1 349.50h-12.5M126.6 321.15h6.5M795.1 321.15h-6.5M126.6 292.80h12.5M795.1 292.80h-12.5M126.6 264.45h6.5M795.1 264.45h-6.5M126.6 236.10h12.5M795.1 236.10h-12.5M126.6 207.75h6.5M795.1 207.75h-6.5M126.6 179.40h12.5M795.1 179.40h-12.5M126.6 151.05h6.5M795.1 151.05h-6.5M126.6 122.70h12.5M795.1 122.70h-12.5M126.6 94.35h6.5M795.1 94.35h-6.5M126.6 66.00h12.5M795.1 66.00h-12.5M126.6 37.65h6.5M795.1 37.65h-6.5" stroke="#000" stroke-width="1.4" fill="none"/>
<rect x="126.6" y="9.3" width="668.5" height="567.0" fill="none" stroke="#000" stroke-width="1.5"/>
<g font-family="Liberation Sans, sans-serif" font-size="21" fill="#000">
<text x="115.2" y="15.80" text-anchor="end">1e+12</text>
<text x="115.2" y="72.50" text-anchor="end">1e+10</text>
<text x="115.2" y="129.20" text-anchor="end">1e+08</text>
<text x="115.2" y="185.90" text-anchor="end">1e+06</text>
<text x="115.2" y="242.60" text-anchor="end">10000</text>
<text x="115.2" y="299.30" text-anchor="end">100</text>
<text x="115.2" y="356.00" text-anchor="end">1</text>
<text x="115.2" y="412.70" text-anchor="end">0.01</text>
<text x="115.2" y="469.40" text-anchor="end">0.0001</text>
<text x="115.2" y="526.10" text-anchor="end">1e-06</text>
<text x="115.2" y="582.80" text-anchor="end">1e-08</text>
<text x="158.54" y="608" text-anchor="middle">0.1</text>
<text x="264.63" y="608" text-anchor="middle">1</text>
<text x="370.72" y="608" text-anchor="middle">10</text>
<text x="476.82" y="608" text-anchor="middle">100</text>
<text x="582.91" y="608" text-anchor="middle">1000</text>
<text x="689.01" y="608" text-anchor="middle">10000</text>
<text x="795.10" y="608" text-anchor="middle">100000</text>
<text x="461" y="645.7" text-anchor="middle">orbital arc(days)</text>
<text transform="translate(16.3,293) rotate(-90)" text-anchor="middle">CEU (arcsec)</text>
<text x="158" y="526" fill="#ff0000">-1.448*log(arc)+5.804</text>
<text x="366" y="555" fill="#008000">-2.460*log(arc)+6.774</text>
<text x="519" y="526" fill="#0000ff">-2.036*log(arc)+6.528</text>
<text x="615" y="555" fill="#ff9900">-0.254*log(arc)-0.270</text>
</g>
</svg></body></html>
